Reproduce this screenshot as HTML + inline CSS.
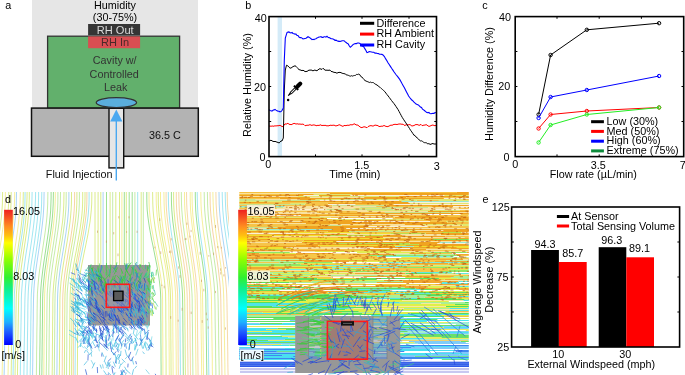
<!DOCTYPE html>
<html><head><meta charset="utf-8"><style>
html,body{margin:0;padding:0;background:#fff;width:685px;height:375px;overflow:hidden}
svg{display:block;will-change:transform}
text{font-family:"Liberation Sans",sans-serif}
</style></head><body>
<svg width="685" height="375" viewBox="0 0 685 375">
<rect width="685" height="375" fill="#fff"/>
<rect x="32" y="0" width="166" height="108" fill="#e6e6e6"/>
<rect x="47.6" y="36.2" width="132" height="72" fill="#62b06c" stroke="#333" stroke-width="1.3"/>
<rect x="88.1" y="24" width="52" height="11.5" fill="#353535"/>
<rect x="88.1" y="36.4" width="52" height="11.8" fill="#d94e52"/>
<rect x="31.5" y="108.1" width="166.8" height="48.2" fill="#b3b3b3" stroke="#111" stroke-width="1.5"/>
<rect x="109" y="108.3" width="14.7" height="59.6" fill="#e6e6e6" stroke="#111" stroke-width="1.4"/>
<ellipse cx="116.4" cy="102.6" rx="20.2" ry="5" fill="#5aaedc" stroke="#333" stroke-width="1.2"/>
<line x1="116.3" y1="180.5" x2="116.3" y2="118" stroke="#4aa8f0" stroke-width="1.4"/>
<polygon points="110.2,121.5 122.4,121.5 116.3,109.6" fill="#4aa8f0"/>
<text x="5.3" y="8.9" font-size="10.8" text-anchor="start" fill="#000" >a</text>
<text x="115" y="9.3" font-size="10.8" text-anchor="middle" fill="#000" >Humidity</text>
<text x="115" y="21.2" font-size="10.8" text-anchor="middle" fill="#000" >(30-75%)</text>
<text x="115.2" y="33.6" font-size="11.1" text-anchor="middle" fill="#dadada" >RH Out</text>
<text x="115" y="45.5" font-size="11" text-anchor="middle" fill="#4a2828" >RH In</text>
<text x="114.7" y="64.4" font-size="10.8" text-anchor="middle" fill="#333" >Cavity w/</text>
<text x="114.2" y="77.6" font-size="10.8" text-anchor="middle" fill="#333" >Controlled</text>
<text x="115.8" y="90.7" font-size="10.8" text-anchor="middle" fill="#333" >Leak</text>
<text x="149" y="138.9" font-size="10.8" text-anchor="start" fill="#111" >36.5 C</text>
<text x="45.8" y="178.2" font-size="10.8" text-anchor="start" fill="#111" >Fluid Injection</text>
<rect x="277.6" y="16.6" width="4.4" height="140.0" fill="#d4ebf8"/>
<polyline points="269,126.3 270,125.9 271,126.4 272,125.9 273,126.2 274,126.2 275,125.7 276,126.1 277,125.6 278,125.9 279,125.5 280,125.4 281,125.8 282,126.6 283,126.5 284,125.2 285,123.8 286,124.2 287,123.8 288,123.1 289,124.5 290,124.2 291,124.8 292,124.3 293,123.8 294,123.4 295,123.5 296,124.2 297,123.7 298,124 299,124.2 300,123.9 301,124.4 302,124.1 303,124.2 304,124.6 305,125.7 306,125.5 307,125.2 308,125.3 309,125.1 310,124.6 311,125.2 312,125.4 313,124.9 314,125 315,125.1 316,125.6 317,125.7 318,125.1 319,125.7 320,124.8 321,125 322,125.7 323,125.2 324,125.6 325,125.2 326,125.6 327,125.9 328,125.7 329,125.9 330,125.1 331,125.4 332,125.3 333,125.3 334,125.1 335,125.6 336,126 337,125.5 338,125.5 339,124.6 340,125.1 341,125.4 342,126.1 343,126.3 344,125.6 345,125.4 346,125.8 347,125.1 348,125.4 349,125.2 350,125 351,124.5 352,125.1 353,124.4 354,124 355,123.9 356,125.1 357,124.8 358,125.3 359,126 360,127 361,127.4 362,127.7 363,127 364,126.9 365,126.8 366,127.4 367,127.7 368,126.7 369,126.1 370,125.8 371,125.6 372,125.9 373,126.1 374,125.7 375,125 376,125.3 377,125.4 378,125.7 379,126.5 380,126.5 381,126.2 382,126.2 383,126.2 384,125.3 385,126.1 386,126.3 387,126.6 388,126.6 389,126 390,125.6 391,125 392,125.4 393,124.8 394,124.4 395,124.4 396,124.3 397,124.6 398,124.2 399,124 400,124 401,124 402,124.4 403,124.1 404,125.2 405,125.4 406,124.9 407,124.7 408,124.8 409,124.8 410,124.5 411,125.4 412,126.1 413,125.7 414,125.6 415,124.9 416,124.5 417,124.7 418,124.6 419,125.5 420,124.9 421,124.4 422,125.6 423,125.5 424,125 425,125.2 426,124.6 427,125 428,126 429,126.3 430,126.2 431,125.5 432,125.3 433,124.9 434,125.6 435,125.6 436,125.5" fill="none" stroke="#ff0000" stroke-width="1"/>
<polyline points="269,141 270,140.6 271,140.2 272,140.8 273,141.4 274,141.5 275,141.5 276,141.6 277,142.3 278,142.3 279,143.1 280,142.2 281,140.9 282,141 283.3,138 284.3,90 285.3,70 286.5,65.2 287.7,65.7 288.8,67 290,68.1 291,68.1 292,67.3 293,66.6 294,66.2 295,65.8 296,66.3 297,67.4 298,68.7 299,69.6 300,69.9 301,70.2 302,70.7 303,70.2 304,70.8 305,71.6 306,71.5 307,71.4 308,70.8 309,70 310,70.3 311,69.9 312,70.4 313,70.9 314,70.3 315,70 316,70.6 317,70.7 318,69.9 319,69.1 320,68.6 321,69.2 322,69.3 323,68.3 324,69.2 325,70.1 326,70.3 327,70.1 328,70.4 329,70.2 330,70.1 331,71.3 332,71.7 333,71.8 334,72.5 335,72.3 336,72.8 337,73.2 338,72.6 339,72.4 340,72.4 341,72.6 342.1,73.3 343.1,73.4 344.1,73.8 345.2,73.7 346.2,74.9 347.2,75 348.3,75.3 349.3,75.8 350.3,76.2 351.4,75.7 352.4,76.1 353.5,75.7 354.5,75.5 355.6,75.3 356.6,74.4 357.7,74.5 358.7,74.1 359.8,74.7 360.8,76.5 361.9,77 362.9,78.2 364,79.6 365,80.5 366.1,81.1 367.2,81.5 368.2,81.9 369.3,82.5 370.4,82.1 371.5,82.6 372.5,82.5 373.6,82.7 374.7,83.8 375.8,84.4 377,85 378.1,85.9 379.2,86.8 380.3,87.5 381.4,88.6 382.6,89.6 383.7,90.6 384.8,91.6 385.9,93.1 387,94.6 388.2,96 389.3,97.5 390.4,99 391.5,100.5 392.7,102 393.9,103.5 395,105 396,106.5 397,108 398,109.5 399.1,111.5 400.1,113.4 401.1,115.3 402.2,117.3 403.4,119.2 404.6,121 405.9,122.9 407.1,124.8 408.3,126.6 409.5,128.5 410.6,130.3 411.8,131.9 412.9,133.6 413.9,135.2 415,135.5 416.1,137.1 417.1,137.8 418.2,138.7 419.3,140.1 420.3,140.9 421.4,140.8 422.5,141.4 423.5,142.2 424.6,142.7 425.7,142.7 426.8,143 427.8,143.9 428.9,143.6 430,144.3 431,144.3 432,143.6 433,143.6 434,144 435,144 436,144" fill="none" stroke="#000" stroke-width="1"/>
<polyline points="269,109.6 270,110.5 271,110.8 272,111.2 273,110.2 274,109.9 275,109.4 276,110.1 277,110.7 278,111.3 279,111.2 280,111.8 281,111.6 282,110.5 283.3,108 284.3,60 285.3,38 287,32.6 288,32.1 289,31.9 290,32.8 291,32.9 292,32.5 293,33.5 294,33.7 295,34.1 296,34 297,35.5 298,35.5 299,37 300,37.6 301,37.6 302,38.1 303,39 304,38.7 305,38.5 306,38.3 307,37.5 308,36.7 309,37.3 310,37.9 311,38.7 312,39.7 313,39.3 314,39.6 315,38.9 316,38.7 317,37.9 318,37.5 319,37 320,37 321,36.6 322,37.4 323,37.4 324,36.7 325,36.7 326,37.2 327,36.2 328,37.3 329,37.6 330,38 331,38.8 332,38.7 333,39 334,39.5 335,40.3 336,40.1 337,40.8 338,41.1 339,41.4 340,41.4 341,41.2 342,40.8 343,40.8 344,40.7 345,41.7 346.1,42.5 347.1,43.2 348.2,43.9 349.2,45.8 350.3,47.3 351.6,46.2 353,44.6 354.1,44 355.3,43.6 356.4,43.6 357.6,43 358.7,43 359.9,43.5 361,45 362.1,46.1 363.3,45.9 364.5,48.1 365.8,50.2 367,52.5 368.1,52.2 369.2,51.6 370.4,51.8 371.5,52 372.6,52.2 373.8,52.3 375,53.1 376.1,53 377.3,53.5 378.4,53.6 379.6,54.3 380.7,54.3 381.9,54.4 383,55 384.4,56.6 385.7,58.9 386.9,60.8 388,62.7 389.2,64.5 390.4,66.4 391.6,68.3 392.9,70.1 394.1,72 395.2,73.5 396.3,75 397.5,76.4 398.6,77.9 399.7,79.4 400.9,81.5 402,83.6 403.2,85.7 404.4,87.8 405.4,89.8 406.5,91.9 407.6,94 408.6,96 409.7,97.5 410.8,98.8 411.8,100 412.9,100.8 414,102.2 415.1,103.1 416.1,104.1 417.2,104.5 418.3,104.9 419.3,105.8 420.4,107 421.5,107.5 422.5,109.1 423.6,109.9 424.7,110.8 425.7,111.6 426.8,112.4 427.9,112.7 428.9,112.4 430,113.6 431,113.8 432,113.5 433,113.3 434,113.4 435,112.5 436,112.8" fill="none" stroke="#0000ff" stroke-width="1.1"/>
<g transform="translate(295.6,88.3) rotate(-45)"><rect x="1.2" y="-2.1" width="7.4" height="4.2" rx="2" fill="#000"/><rect x="-0.4" y="-3" width="2.2" height="6" rx="0.5" fill="#000"/><rect x="-7" y="-1.4" width="6.8" height="2.8" fill="#000"/><rect x="-6.4" y="-0.45" width="5.6" height="0.9" fill="#fff"/><polygon points="-7,-1.1 -10.6,-0.4 -10.6,0.4 -7,1.1" fill="#000"/></g>
<circle cx="288.1" cy="99.9" r="1.25" fill="#000"/>
<rect x="269" y="16.6" width="167.5" height="140" fill="none" stroke="#000" stroke-width="1.6"/><line x1="315.5" y1="156.6" x2="315.5" y2="154.4" stroke="#000" stroke-width="1"/><line x1="315.5" y1="16.6" x2="315.5" y2="18.8" stroke="#000" stroke-width="1"/><line x1="362" y1="156.6" x2="362" y2="154.4" stroke="#000" stroke-width="1"/><line x1="362" y1="16.6" x2="362" y2="18.8" stroke="#000" stroke-width="1"/><line x1="409" y1="156.6" x2="409" y2="154.4" stroke="#000" stroke-width="1"/><line x1="409" y1="16.6" x2="409" y2="18.8" stroke="#000" stroke-width="1"/><line x1="269" y1="51.5" x2="271.2" y2="51.5" stroke="#000" stroke-width="1"/><line x1="436.5" y1="51.5" x2="434.3" y2="51.5" stroke="#000" stroke-width="1"/><line x1="269" y1="86.5" x2="271.2" y2="86.5" stroke="#000" stroke-width="1"/><line x1="436.5" y1="86.5" x2="434.3" y2="86.5" stroke="#000" stroke-width="1"/><line x1="269" y1="121.5" x2="271.2" y2="121.5" stroke="#000" stroke-width="1"/><line x1="436.5" y1="121.5" x2="434.3" y2="121.5" stroke="#000" stroke-width="1"/>
<text x="245.3" y="8.8" font-size="10.8" text-anchor="start" fill="#000" >b</text>
<text x="266.8" y="21.9" font-size="10.8" text-anchor="end" fill="#000" >40</text>
<text x="266" y="90.7" font-size="10.8" text-anchor="end" fill="#000" >20</text>
<text x="265.6" y="160.5" font-size="10.8" text-anchor="end" fill="#000" >0</text>
<text x="268.3" y="168" font-size="10.8" text-anchor="middle" fill="#000" >0</text>
<text x="361.8" y="169.2" font-size="10.8" text-anchor="middle" fill="#000" >1.5</text>
<text x="436.8" y="169.6" font-size="10.8" text-anchor="middle" fill="#000" >3</text>
<text x="354.8" y="178.4" font-size="10.8" text-anchor="middle" fill="#000" >Time (min)</text>
<text x="0" y="0" font-size="10.8" text-anchor="middle" fill="#000" transform="translate(250.6,85) rotate(-90)">Relative Humidity (%)</text>
<line x1="360" y1="23.3" x2="374.2" y2="23.3" stroke="#000" stroke-width="3"/>
<text x="376.5" y="26.6" font-size="10.8" text-anchor="start" fill="#000" >Difference</text>
<line x1="360" y1="34.1" x2="374.2" y2="34.1" stroke="#ff0000" stroke-width="3"/>
<text x="376.5" y="37.4" font-size="10.8" text-anchor="start" fill="#000" >RH Ambient</text>
<line x1="360" y1="45" x2="374.2" y2="45" stroke="#0000ff" stroke-width="3"/>
<text x="376.5" y="48.3" font-size="10.8" text-anchor="start" fill="#000" >RH Cavity</text>
<rect x="515.2" y="16.6" width="168.5" height="140" fill="none" stroke="#000" stroke-width="1.6"/><line x1="557" y1="156.6" x2="557" y2="154.4" stroke="#000" stroke-width="1"/><line x1="557" y1="16.6" x2="557" y2="18.8" stroke="#000" stroke-width="1"/><line x1="599.2" y1="156.6" x2="599.2" y2="154.4" stroke="#000" stroke-width="1"/><line x1="599.2" y1="16.6" x2="599.2" y2="18.8" stroke="#000" stroke-width="1"/><line x1="641.4" y1="156.6" x2="641.4" y2="154.4" stroke="#000" stroke-width="1"/><line x1="641.4" y1="16.6" x2="641.4" y2="18.8" stroke="#000" stroke-width="1"/><line x1="515.2" y1="51.5" x2="517.4" y2="51.5" stroke="#000" stroke-width="1"/><line x1="683.7" y1="51.5" x2="681.5" y2="51.5" stroke="#000" stroke-width="1"/><line x1="515.2" y1="86.5" x2="517.4" y2="86.5" stroke="#000" stroke-width="1"/><line x1="683.7" y1="86.5" x2="681.5" y2="86.5" stroke="#000" stroke-width="1"/><line x1="515.2" y1="121.5" x2="517.4" y2="121.5" stroke="#000" stroke-width="1"/><line x1="683.7" y1="121.5" x2="681.5" y2="121.5" stroke="#000" stroke-width="1"/>
<polyline points="538.6,114.5 550.6,55 586.8,29.8 659.1,23.2" fill="none" stroke="#000" stroke-width="1"/>
<circle cx="538.6" cy="114.5" r="1.7" fill="none" stroke="#000" stroke-width="1"/>
<circle cx="550.6" cy="55" r="1.7" fill="none" stroke="#000" stroke-width="1"/>
<circle cx="586.8" cy="29.8" r="1.7" fill="none" stroke="#000" stroke-width="1"/>
<circle cx="659.1" cy="23.2" r="1.7" fill="none" stroke="#000" stroke-width="1"/>
<polyline points="538.6,128.5 550.6,114.5 586.8,111 659.1,107.5" fill="none" stroke="#ff0000" stroke-width="1"/>
<circle cx="538.6" cy="128.5" r="1.7" fill="none" stroke="#ff0000" stroke-width="1"/>
<circle cx="550.6" cy="114.5" r="1.7" fill="none" stroke="#ff0000" stroke-width="1"/>
<circle cx="586.8" cy="111" r="1.7" fill="none" stroke="#ff0000" stroke-width="1"/>
<circle cx="659.1" cy="107.5" r="1.7" fill="none" stroke="#ff0000" stroke-width="1"/>
<polyline points="538.6,118 550.6,97 586.8,90 659.1,76" fill="none" stroke="#0000ff" stroke-width="1"/>
<circle cx="538.6" cy="118" r="1.7" fill="none" stroke="#0000ff" stroke-width="1"/>
<circle cx="550.6" cy="97" r="1.7" fill="none" stroke="#0000ff" stroke-width="1"/>
<circle cx="586.8" cy="90" r="1.7" fill="none" stroke="#0000ff" stroke-width="1"/>
<circle cx="659.1" cy="76" r="1.7" fill="none" stroke="#0000ff" stroke-width="1"/>
<polyline points="538.6,142.5 550.6,125 586.8,114.5 659.1,107.5" fill="none" stroke="#22ee22" stroke-width="1"/>
<circle cx="538.6" cy="142.5" r="1.7" fill="none" stroke="#22ee22" stroke-width="1"/>
<circle cx="550.6" cy="125" r="1.7" fill="none" stroke="#22ee22" stroke-width="1"/>
<circle cx="586.8" cy="114.5" r="1.7" fill="none" stroke="#22ee22" stroke-width="1"/>
<circle cx="659.1" cy="107.5" r="1.7" fill="none" stroke="#22ee22" stroke-width="1"/>
<text x="482.3" y="9.4" font-size="10.8" text-anchor="start" fill="#000" >c</text>
<text x="511.1" y="21.4" font-size="10.8" text-anchor="end" fill="#000" >40</text>
<text x="510.2" y="89.7" font-size="10.8" text-anchor="end" fill="#000" >20</text>
<text x="509.6" y="160.5" font-size="10.8" text-anchor="end" fill="#000" >0</text>
<text x="515.2" y="168" font-size="10.8" text-anchor="middle" fill="#000" >0</text>
<text x="598.2" y="169.1" font-size="10.8" text-anchor="middle" fill="#000" >3.5</text>
<text x="682.8" y="169.4" font-size="10.8" text-anchor="middle" fill="#000" >7</text>
<text x="593.3" y="178.2" font-size="10.8" text-anchor="middle" fill="#000" >Flow rate (µL/min)</text>
<text x="0" y="0" font-size="10.8" text-anchor="middle" fill="#000" transform="translate(493.2,84) rotate(-90)">Humidity Difference (%)</text>
<line x1="591.1" y1="121.7" x2="603.9" y2="121.7" stroke="#000" stroke-width="3"/>
<text x="606.6" y="124.8" font-size="10.8" text-anchor="start" fill="#000" >Low (30%)</text>
<line x1="591.1" y1="131.4" x2="603.9" y2="131.4" stroke="#ff0000" stroke-width="3"/>
<text x="606.6" y="134.5" font-size="10.8" text-anchor="start" fill="#000" >Med (50%)</text>
<line x1="591.1" y1="141.2" x2="603.9" y2="141.2" stroke="#0000ff" stroke-width="3"/>
<text x="606.6" y="144.3" font-size="10.8" text-anchor="start" fill="#000" >High (60%)</text>
<line x1="591.1" y1="150.9" x2="603.9" y2="150.9" stroke="#0d8c3c" stroke-width="3"/>
<text x="606.6" y="154" font-size="10.8" text-anchor="start" fill="#000" >Extreme (75%)</text>
<svg x="0" y="192" width="229" height="183" viewBox="0 192 229 183" overflow="hidden"><path d="M-6 192 -6.1 198 -6.3 204 -6.7 210 -7.2 216 -7.9 222 -8.7 228 -9.6 234 -10.5 240 -11.5 246 -12.6 252 -13.6 258 -14.6 264 -15.5 270 -16.3 276 -17.1 282 -17.6 288 -18.1 294 -18.3 300 -18.4 306 -18.5 312 -18.7 318 -18.8 324 -18.9 330 -19 336 -19.2 342 -19.3 348 -19.4 354 -19.5 360 -19.6 366 -19.8 372 -19.8 375M-0.3 192 -0.5 198 -0.6 204 -1 210 -1.5 216 -2.2 222 -2.9 228 -3.8 234 -4.8 240 -5.7 246 -6.7 252 -7.7 258 -8.7 264 -9.6 270 -10.4 276 -11.1 282 -11.7 288 -12.1 294 -12.3 300 -12.4 306 -12.6 312 -12.7 318 -12.8 324 -12.9 330 -13 336 -13.1 342 -13.3 348 -13.4 354 -13.5 360 -13.6 366 -13.7 372 -13.8 375M25.1 192 25 198 24.9 204 24.6 210 24.1 216 23.5 222 22.8 228 22 234 21.1 240 20.2 246 19.3 252 18.4 258 17.5 264 16.7 270 16 276 15.3 282 14.8 288 14.4 294 14.2 300 14.2 306 14.1 312 14 318 13.9 324 13.8 330 13.7 336 13.6 342 13.5 348 13.4 354 13.3 360 13.2 366 13.1 372 13.1 375M32.1 192 32 198 31.9 204 31.6 210 31.1 216 30.5 222 29.8 228 29 234 28.2 240 27.3 246 26.3 252 25.4 258 24.6 264 23.8 270 23 276 22.4 282 21.9 288 21.5 294 21.3 300 21.3 306 21.2 312 21.1 318 21 324 20.9 330 20.8 336 20.7 342 20.7 348 20.6 354 20.5 360 20.4 366 20.3 372 20.3 375M35.6 192 35.5 198 35.3 204 35 210 34.6 216 34 222 33.3 228 32.5 234 31.7 240 30.8 246 29.9 252 29 258 28.1 264 27.3 270 26.5 276 25.9 282 25.4 288 25.1 294 24.9 300 24.8 306 24.7 312 24.6 318 24.6 324 24.5 330 24.4 336 24.3 342 24.2 348 24.1 354 24.1 360 24 366 23.9 372 23.9 375M38.6 192 38.6 198 38.4 204 38.1 210 37.7 216 37.1 222 36.4 228 35.6 234 34.8 240 33.9 246 33 252 32.1 258 31.2 264 30.4 270 29.7 276 29 282 28.5 288 28.2 294 28 300 27.9 306 27.8 312 27.8 318 27.7 324 27.6 330 27.5 336 27.4 342 27.4 348 27.3 354 27.2 360 27.1 366 27.1 372 27 375M41.8 192 41.7 198 41.6 204 41.3 210 40.8 216 40.2 222 39.5 228 38.7 234 37.9 240 37 246 36.1 252 35.2 258 34.3 264 33.5 270 32.8 276 32.2 282 31.7 288 31.3 294 31.1 300 31.1 306 31 312 30.9 318 30.8 324 30.8 330 30.7 336 30.6 342 30.5 348 30.5 354 30.4 360 30.3 366 30.2 372 30.2 375M89.1 192 89.1 198 89 204 88.6 210 88.1 216 87.3 222 86.4 228 85.4 234 84.2 240 83.1 246 81.9 252 80.7 258 79.5 264 78.4 270 77.5 276 76.7 282 76 288 75.6 294 75.5 300 75.4 306 75.4 312 75.4 318 75.3 324 75.3 330 75.3 336 75.3 342 75.2 348 75.2 354 75.2 360 75.1 366 75.1 372 75.1 375M137.7 192 137.7 200 137.7 208 137.7 216 137.7 224 137.7 232 137.7 240 137.7 248 137.7 256 137.7 264 137.7 266M168.3 192 168.4 198 168.5 204 168.8 210 169.3 216 169.9 222 170.7 228 171.5 234 172.5 240 173.5 246 174.5 252 175.4 258 176.4 264 177.3 270 178.1 276 178.8 282 179.3 288 179.7 294 179.8 300 179.9 306 179.9 312 180 318 180 324 180.1 330 180.1 336 180.2 342 180.2 348 180.3 354 180.3 360 180.4 366 180.4 372 180.4 375M197.2 192 197.3 198 197.4 204 197.7 210 198.1 216 198.7 222 199.4 228 200.2 234 201.1 240 202 246 202.9 252 203.8 258 204.6 264 205.4 270 206.2 276 206.8 282 207.3 288 207.7 294 207.8 300 207.9 306 208 312 208.1 318 208.1 324 208.2 330 208.3 336 208.4 342 208.4 348 208.5 354 208.6 360 208.7 366 208.8 372 208.8 375M222.2 192 222.3 198 222.5 204 222.8 210 223.3 216 223.9 222 224.7 228 225.5 234 226.4 240 227.3 246 228.2 252 229.2 258 230.1 264 230.9 270 231.7 276 232.4 282 232.9 288 233.3 294 233.5 300 233.6 306 233.7 312 233.8 318 233.9 324 234 330 234.1 336 234.2 342 234.3 348 234.4 354 234.5 360 234.6 366 234.7 372 234.7 375M225.2 192 225.3 198 225.5 204 225.8 210 226.3 216 226.9 222 227.6 228 228.5 234 229.4 240 230.3 246 231.3 252 232.2 258 233.1 264 234 270 234.8 276 235.4 282 236 288 236.3 294 236.5 300 236.6 306 236.8 312 236.9 318 237 324 237.1 330 237.2 336 237.3 342 237.4 348 237.5 354 237.6 360 237.7 366 237.8 372 237.8 375M233.4 192 233.5 198 233.6 204 234 210 234.5 216 235.1 222 235.9 228 236.8 234 237.7 240 238.7 246 239.6 252 240.6 258 241.6 264 242.4 270 243.2 276 243.9 282 244.5 288 244.9 294 245.1 300 245.2 306 245.3 312 245.4 318 245.5 324 245.7 330 245.8 336 245.9 342 246 348 246.1 354 246.2 360 246.3 366 246.4 372 246.5 375" fill="none" stroke="#62d6e8" stroke-width="0.75" stroke-opacity="0.8"/>
<path d="M-3.1 192 -3.2 198 -3.4 204 -3.7 210 -4.2 216 -4.9 222 -5.7 228 -6.6 234 -7.5 240 -8.5 246 -9.6 252 -10.6 258 -11.5 264 -12.5 270 -13.3 276 -14 282 -14.6 288 -15 294 -15.2 300 -15.3 306 -15.4 312 -15.6 318 -15.7 324 -15.8 330 -15.9 336 -16 342 -16.2 348 -16.3 354 -16.4 360 -16.5 366 -16.6 372 -16.7 375M47.9 192 47.8 198 47.7 204 47.4 210 47 216 46.4 222 45.7 228 44.9 234 44 240 43.1 246 42.2 252 41.3 258 40.5 264 39.6 270 38.9 276 38.3 282 37.8 288 37.4 294 37.3 300 37.2 306 37.1 312 37.1 318 37 324 36.9 330 36.8 336 36.8 342 36.7 348 36.6 354 36.6 360 36.5 366 36.4 372 36.4 375M57.9 192 57.9 198 57.8 204 57.5 210 57 216 56.4 222 55.7 228 54.9 234 54 240 53.1 246 52.1 252 51.2 258 50.3 264 49.5 270 48.7 276 48.1 282 47.6 288 47.2 294 47.1 300 47 306 46.9 312 46.9 318 46.8 324 46.8 330 46.7 336 46.6 342 46.6 348 46.5 354 46.5 360 46.4 366 46.3 372 46.3 375M60.5 192 60.4 198 60.3 204 60 210 59.6 216 59 222 58.3 228 57.4 234 56.5 240 55.6 246 54.7 252 53.7 258 52.8 264 52 270 51.2 276 50.6 282 50 288 49.7 294 49.5 300 49.5 306 49.4 312 49.4 318 49.3 324 49.2 330 49.2 336 49.1 342 49.1 348 49 354 49 360 48.9 366 48.8 372 48.8 375M66.2 192 66.2 198 66.1 204 65.8 210 65.3 216 64.7 222 63.9 228 63.1 234 62.2 240 61.2 246 60.2 252 59.3 258 58.3 264 57.4 270 56.7 276 56 282 55.5 288 55.1 294 55 300 54.9 306 54.9 312 54.8 318 54.8 324 54.7 330 54.7 336 54.6 342 54.5 348 54.5 354 54.4 360 54.4 366 54.3 372 54.3 375M79.4 192 79.4 198 79.3 204 79 210 78.5 216 77.8 222 76.9 228 76 234 75 240 73.9 246 72.8 252 71.8 258 70.7 264 69.8 270 68.9 276 68.2 282 67.6 288 67.2 294 67.1 300 67 306 67 312 66.9 318 66.9 324 66.9 330 66.8 336 66.8 342 66.8 348 66.7 354 66.7 360 66.6 366 66.6 372 66.6 375M112.7 192 112.7 200 112.7 208 112.7 216 112.7 224 112.7 232 112.7 240 112.7 248 112.7 256 112.7 264 112.7 266M134.9 192 134.9 200 134.9 208 134.9 216 134.9 224 134.9 232 134.9 240 134.9 248 134.9 256 134.9 264 134.9 266M143.3 192 143.3 200 143.3 208 143.3 216 143.3 224 143.3 232 143.3 240 143.3 248 143.3 256 143.3 264 143.3 266M181.3 192 181.4 198 181.5 204 181.8 210 182.3 216 182.8 222 183.6 228 184.4 234 185.2 240 186.2 246 187.1 252 188 258 188.9 264 189.8 270 190.5 276 191.1 282 191.6 288 192 294 192.2 300 192.2 306 192.3 312 192.3 318 192.4 324 192.5 330 192.5 336 192.6 342 192.6 348 192.7 354 192.8 360 192.8 366 192.9 372 192.9 375M204.2 192 204.3 198 204.4 204 204.7 210 205.2 216 205.8 222 206.5 228 207.2 234 208.1 240 209 246 209.9 252 210.8 258 211.7 264 212.5 270 213.2 276 213.9 282 214.4 288 214.7 294 214.9 300 215 306 215.1 312 215.1 318 215.2 324 215.3 330 215.4 336 215.5 342 215.6 348 215.6 354 215.7 360 215.8 366 215.9 372 215.9 375M207.4 192 207.5 198 207.6 204 207.9 210 208.3 216 208.9 222 209.6 228 210.4 234 211.3 240 212.2 246 213.1 252 214 258 214.9 264 215.7 270 216.4 276 217.1 282 217.6 288 217.9 294 218.1 300 218.2 306 218.3 312 218.4 318 218.5 324 218.6 330 218.6 336 218.7 342 218.8 348 218.9 354 219 360 219.1 366 219.2 372 219.2 375" fill="none" stroke="#a0e070" stroke-width="0.75" stroke-opacity="0.8"/>
<path d="M2.6 192 2.5 198 2.4 204 2 210 1.5 216 0.8 222 0.1 228 -0.8 234 -1.7 240 -2.7 246 -3.7 252 -4.7 258 -5.6 264 -6.5 270 -7.3 276 -8 282 -8.6 288 -9 294 -9.2 300 -9.3 306 -9.4 312 -9.5 318 -9.6 324 -9.8 330 -9.9 336 -10 342 -10.1 348 -10.2 354 -10.3 360 -10.5 366 -10.6 372 -10.6 375M8.8 192 8.7 198 8.6 204 8.2 210 7.7 216 7.1 222 6.4 228 5.5 234 4.6 240 3.7 246 2.7 252 1.7 258 0.8 264 -0.1 270 -0.9 276 -1.5 282 -2.1 288 -2.5 294 -2.7 300 -2.8 306 -2.9 312 -3 318 -3.1 324 -3.2 330 -3.3 336 -3.4 342 -3.5 348 -3.7 354 -3.8 360 -3.9 366 -4 372 -4 375M11.2 192 11.1 198 11 204 10.7 210 10.2 216 9.5 222 8.8 228 8 234 7.1 240 6.1 246 5.2 252 4.2 258 3.3 264 2.4 270 1.6 276 1 282 0.4 288 0 294 -0.2 300 -0.3 306 -0.4 312 -0.5 318 -0.6 324 -0.7 330 -0.8 336 -0.9 342 -1 348 -1.1 354 -1.2 360 -1.3 366 -1.4 372 -1.5 375M23.3 192 23.2 198 23.1 204 22.8 210 22.3 216 21.7 222 21 228 20.2 234 19.3 240 18.4 246 17.5 252 16.5 258 15.7 264 14.8 270 14.1 276 13.4 282 12.9 288 12.6 294 12.4 300 12.3 306 12.2 312 12.1 318 12 324 11.9 330 11.8 336 11.7 342 11.6 348 11.5 354 11.4 360 11.3 366 11.2 372 11.2 375M27.1 192 27 198 26.8 204 26.5 210 26.1 216 25.5 222 24.8 228 24 234 23.1 240 22.2 246 21.3 252 20.4 258 19.5 264 18.7 270 17.9 276 17.3 282 16.8 288 16.4 294 16.2 300 16.1 306 16 312 15.9 318 15.9 324 15.8 330 15.7 336 15.6 342 15.5 348 15.4 354 15.3 360 15.2 366 15.1 372 15.1 375M29.3 192 29.3 198 29.1 204 28.8 210 28.4 216 27.8 222 27.1 228 26.3 234 25.4 240 24.5 246 23.6 252 22.7 258 21.8 264 21 270 20.2 276 19.6 282 19.1 288 18.7 294 18.6 300 18.5 306 18.4 312 18.3 318 18.2 324 18.1 330 18 336 17.9 342 17.9 348 17.8 354 17.7 360 17.6 366 17.5 372 17.5 375M64 192 63.9 198 63.8 204 63.5 210 63.1 216 62.5 222 61.7 228 60.9 234 60 240 59 246 58.1 252 57.1 258 56.2 264 55.3 270 54.6 276 53.9 282 53.4 288 53 294 52.9 300 52.8 306 52.8 312 52.7 318 52.6 324 52.6 330 52.5 336 52.5 342 52.4 348 52.4 354 52.3 360 52.3 366 52.2 372 52.2 375M71.5 192 71.5 198 71.4 204 71.1 210 70.6 216 70 222 69.2 228 68.3 234 67.4 240 66.4 246 65.4 252 64.4 258 63.4 264 62.5 270 61.7 276 61 282 60.5 288 60.1 294 59.9 300 59.9 306 59.8 312 59.8 318 59.7 324 59.7 330 59.7 336 59.6 342 59.6 348 59.5 354 59.5 360 59.4 366 59.4 372 59.3 375M76.9 192 76.9 198 76.8 204 76.5 210 76 216 75.3 222 74.5 228 73.6 234 72.6 240 71.6 246 70.5 252 69.5 258 68.5 264 67.5 270 66.7 276 65.9 282 65.4 288 65 294 64.9 300 64.8 306 64.8 312 64.7 318 64.7 324 64.6 330 64.6 336 64.6 342 64.5 348 64.5 354 64.4 360 64.4 366 64.4 372 64.3 375M82.7 192 82.7 198 82.6 204 82.3 210 81.8 216 81 222 80.2 228 79.2 234 78.2 240 77.1 246 76 252 74.8 258 73.8 264 72.8 270 71.9 276 71.1 282 70.5 288 70.2 294 70 300 70 306 69.9 312 69.9 318 69.8 324 69.8 330 69.8 336 69.7 342 69.7 348 69.7 354 69.6 360 69.6 366 69.6 372 69.5 375M85 192 85 198 84.9 204 84.6 210 84 216 83.3 222 82.4 228 81.4 234 80.4 240 79.2 246 78.1 252 77 258 75.9 264 74.8 270 73.9 276 73.1 282 72.5 288 72.1 294 72 300 72 306 71.9 312 71.9 318 71.9 324 71.8 330 71.8 336 71.8 342 71.7 348 71.7 354 71.7 360 71.6 366 71.6 372 71.6 375M91.8 192 91.8 198 91.7 204 91.3 210 90.7 216 90 222 89 228 88 234 86.8 240 85.6 246 84.3 252 83.1 258 81.9 264 80.8 270 79.8 276 79 282 78.3 288 77.9 294 77.7 300 77.7 306 77.7 312 77.6 318 77.6 324 77.6 330 77.6 336 77.5 342 77.5 348 77.5 354 77.5 360 77.4 366 77.4 372 77.4 375M95 192 95 200 95 208 95 216 95 224 95 232 95 240 95 248 95 256 95 264 95 266M98.1 192 98.1 200 98.1 208 98.1 216 98.1 224 98.1 232 98.1 240 98.1 248 98.1 256 98.1 264 98.1 266M100.8 192 100.8 200 100.8 208 100.8 216 100.8 224 100.8 232 100.8 240 100.8 248 100.8 256 100.8 264 100.8 266M110.1 192 110.1 200 110.1 208 110.1 216 110.1 224 110.1 232 110.1 240 110.1 248 110.1 256 110.1 264 110.1 266M115.8 192 115.8 200 115.8 208 115.8 216 115.8 224 115.8 232 115.8 240 115.8 248 115.8 256 115.8 264 115.8 266M119.5 192 119.5 200 119.5 208 119.5 216 119.5 224 119.5 232 119.5 240 119.5 248 119.5 256 119.5 264 119.5 266M126.3 192 126.3 200 126.3 208 126.3 216 126.3 224 126.3 232 126.3 240 126.3 248 126.3 256 126.3 264 126.3 266M141.2 192 141.2 200 141.2 208 141.2 216 141.2 224 141.2 232 141.2 240 141.2 248 141.2 256 141.2 264 141.2 266M152.6 192 152.7 198 152.8 204 153.1 210 153.6 216 154.4 222 155.2 228 156.2 234 157.3 240 158.4 246 159.6 252 160.7 258 161.8 264 162.9 270 163.8 276 164.6 282 165.2 288 165.6 294 165.7 300 165.8 306 165.8 312 165.8 318 165.9 324 165.9 330 165.9 336 166 342 166 348 166 354 166.1 360 166.1 366 166.1 372 166.1 375M158.2 192 158.3 198 158.3 204 158.7 210 159.2 216 159.9 222 160.7 228 161.6 234 162.6 240 163.7 246 164.8 252 165.9 258 166.9 264 167.9 270 168.8 276 169.5 282 170.1 288 170.4 294 170.6 300 170.6 306 170.7 312 170.7 318 170.8 324 170.8 330 170.8 336 170.9 342 170.9 348 171 354 171 360 171 366 171.1 372 171.1 375M173.6 192 173.6 198 173.7 204 174 210 174.5 216 175.1 222 175.9 228 176.7 234 177.6 240 178.5 246 179.5 252 180.5 258 181.4 264 182.3 270 183 276 183.7 282 184.2 288 184.6 294 184.7 300 184.8 306 184.8 312 184.9 318 184.9 324 185 330 185.1 336 185.1 342 185.2 348 185.2 354 185.3 360 185.3 366 185.4 372 185.4 375" fill="none" stroke="#c4e040" stroke-width="0.75" stroke-opacity="0.8"/>
<path d="M5.4 192 5.3 198 5.2 204 4.8 210 4.3 216 3.7 222 2.9 228 2.1 234 1.2 240 0.2 246 -0.8 252 -1.8 258 -2.7 264 -3.6 270 -4.4 276 -5.1 282 -5.6 288 -6 294 -6.2 300 -6.3 306 -6.4 312 -6.6 318 -6.7 324 -6.8 330 -6.9 336 -7 342 -7.1 348 -7.2 354 -7.3 360 -7.5 366 -7.6 372 -7.6 375M14.7 192 14.6 198 14.4 204 14.1 210 13.6 216 13 222 12.2 228 11.4 234 10.5 240 9.6 246 8.6 252 7.7 258 6.8 264 6 270 5.2 276 4.5 282 4 288 3.6 294 3.4 300 3.3 306 3.2 312 3.1 318 3 324 2.9 330 2.8 336 2.7 342 2.6 348 2.5 354 2.4 360 2.3 366 2.2 372 2.1 375M20.3 192 20.2 198 20 204 19.7 210 19.2 216 18.6 222 17.9 228 17.1 234 16.2 240 15.3 246 14.4 252 13.5 258 12.6 264 11.7 270 11 276 10.3 282 9.8 288 9.4 294 9.2 300 9.1 306 9 312 8.9 318 8.8 324 8.7 330 8.6 336 8.6 342 8.5 348 8.4 354 8.3 360 8.2 366 8.1 372 8 375M55.3 192 55.3 198 55.1 204 54.9 210 54.4 216 53.8 222 53.1 228 52.3 234 51.4 240 50.5 246 49.6 252 48.7 258 47.8 264 46.9 270 46.2 276 45.6 282 45 288 44.7 294 44.5 300 44.5 306 44.4 312 44.4 318 44.3 324 44.2 330 44.2 336 44.1 342 44 348 44 354 43.9 360 43.9 366 43.8 372 43.8 375M121.9 192 121.9 200 121.9 208 121.9 216 121.9 224 121.9 232 121.9 240 121.9 248 121.9 256 121.9 264 121.9 266M149 192 149 198 149.1 204 149.4 210 150 216 150.7 222 151.6 228 152.7 234 153.8 240 155 246 156.2 252 157.4 258 158.5 264 159.6 270 160.6 276 161.4 282 162 288 162.4 294 162.6 300 162.6 306 162.6 312 162.7 318 162.7 324 162.7 330 162.8 336 162.8 342 162.8 348 162.8 354 162.9 360 162.9 366 162.9 372 162.9 375M156.2 192 156.2 198 156.3 204 156.7 210 157.2 216 157.9 222 158.7 228 159.7 234 160.7 240 161.8 246 162.9 252 164 258 165.1 264 166.1 270 166.9 276 167.7 282 168.3 288 168.7 294 168.8 300 168.9 306 168.9 312 168.9 318 169 324 169 330 169 336 169.1 342 169.1 348 169.2 354 169.2 360 169.2 366 169.3 372 169.3 375M160.5 192 160.5 198 160.6 204 160.9 210 161.4 216 162.1 222 162.9 228 163.8 234 164.8 240 165.9 246 166.9 252 168 258 169 264 170 270 170.8 276 171.5 282 172.1 288 172.5 294 172.6 300 172.7 306 172.7 312 172.8 318 172.8 324 172.8 330 172.9 336 172.9 342 173 348 173 354 173 360 173.1 366 173.1 372 173.1 375M163.9 192 164 198 164.1 204 164.4 210 164.9 216 165.5 222 166.3 228 167.2 234 168.2 240 169.2 246 170.2 252 171.3 258 172.2 264 173.2 270 174 276 174.7 282 175.2 288 175.6 294 175.8 300 175.8 306 175.8 312 175.9 318 175.9 324 176 330 176 336 176.1 342 176.1 348 176.2 354 176.2 360 176.2 366 176.3 372 176.3 375M184.5 192 184.5 198 184.6 204 184.9 210 185.4 216 186 222 186.7 228 187.5 234 188.3 240 189.2 246 190.2 252 191.1 258 192 264 192.8 270 193.5 276 194.2 282 194.7 288 195 294 195.2 300 195.3 306 195.3 312 195.4 318 195.4 324 195.5 330 195.6 336 195.6 342 195.7 348 195.8 354 195.8 360 195.9 366 196 372 196 375M190.2 192 190.2 198 190.3 204 190.6 210 191.1 216 191.7 222 192.4 228 193.2 234 194 240 194.9 246 195.8 252 196.7 258 197.6 264 198.4 270 199.2 276 199.8 282 200.3 288 200.6 294 200.8 300 200.9 306 200.9 312 201 318 201.1 324 201.1 330 201.2 336 201.3 342 201.4 348 201.4 354 201.5 360 201.6 366 201.6 372 201.7 375M192 192 192.1 198 192.2 204 192.5 210 192.9 216 193.5 222 194.2 228 195 234 195.9 240 196.8 246 197.7 252 198.6 258 199.4 264 200.2 270 201 276 201.6 282 202.1 288 202.5 294 202.6 300 202.7 306 202.8 312 202.8 318 202.9 324 203 330 203.1 336 203.1 342 203.2 348 203.3 354 203.3 360 203.4 366 203.5 372 203.5 375M200.8 192 200.9 198 201 204 201.3 210 201.8 216 202.4 222 203.1 228 203.8 234 204.7 240 205.6 246 206.5 252 207.4 258 208.3 264 209.1 270 209.8 276 210.4 282 210.9 288 211.3 294 211.5 300 211.5 306 211.6 312 211.7 318 211.8 324 211.9 330 211.9 336 212 342 212.1 348 212.2 354 212.3 360 212.3 366 212.4 372 212.5 375M212.9 192 213 198 213.2 204 213.5 210 213.9 216 214.6 222 215.3 228 216.1 234 216.9 240 217.8 246 218.8 252 219.7 258 220.6 264 221.4 270 222.1 276 222.8 282 223.3 288 223.6 294 223.8 300 223.9 306 224 312 224.1 318 224.2 324 224.3 330 224.4 336 224.5 342 224.6 348 224.7 354 224.8 360 224.9 366 224.9 372 225 375" fill="none" stroke="#eee458" stroke-width="0.75" stroke-opacity="0.8"/>
<path d="M16.5 192 16.4 198 16.3 204 16 210 15.5 216 14.9 222 14.1 228 13.3 234 12.4 240 11.5 246 10.6 252 9.6 258 8.7 264 7.9 270 7.1 276 6.5 282 5.9 288 5.6 294 5.4 300 5.3 306 5.2 312 5.1 318 5 324 4.9 330 4.8 336 4.7 342 4.6 348 4.5 354 4.4 360 4.3 366 4.2 372 4.1 375M44.1 192 44 198 43.9 204 43.6 210 43.2 216 42.6 222 41.9 228 41.1 234 40.3 240 39.4 246 38.5 252 37.6 258 36.7 264 35.9 270 35.1 276 34.5 282 34 288 33.7 294 33.5 300 33.4 306 33.3 312 33.3 318 33.2 324 33.1 330 33.1 336 33 342 32.9 348 32.8 354 32.8 360 32.7 366 32.6 372 32.6 375M68.9 192 68.9 198 68.8 204 68.5 210 68 216 67.4 222 66.6 228 65.8 234 64.8 240 63.9 246 62.9 252 61.9 258 60.9 264 60 270 59.3 276 58.6 282 58 288 57.7 294 57.5 300 57.5 306 57.4 312 57.4 318 57.3 324 57.3 330 57.2 336 57.2 342 57.1 348 57.1 354 57 360 57 366 56.9 372 56.9 375M103.1 192 103.1 200 103.1 208 103.1 216 103.1 224 103.1 232 103.1 240 103.1 248 103.1 256 103.1 264 103.1 266M219 192 219.1 198 219.2 204 219.5 210 220 216 220.6 222 221.4 228 222.2 234 223.1 240 224 246 224.9 252 225.8 258 226.7 264 227.6 270 228.3 276 229 282 229.5 288 229.9 294 230.1 300 230.2 306 230.3 312 230.4 318 230.5 324 230.6 330 230.7 336 230.8 342 230.9 348 231 354 231.1 360 231.2 366 231.3 372 231.3 375" fill="none" stroke="#70b8f0" stroke-width="0.75" stroke-opacity="0.8"/>
<path d="M51.1 192 51.1 198 50.9 204 50.7 210 50.2 216 49.6 222 48.9 228 48.1 234 47.2 240 46.3 246 45.4 252 44.5 258 43.6 264 42.8 270 42.1 276 41.4 282 40.9 288 40.6 294 40.4 300 40.4 306 40.3 312 40.2 318 40.2 324 40.1 330 40 336 40 342 39.9 348 39.8 354 39.8 360 39.7 366 39.6 372 39.6 375M53.4 192 53.3 198 53.2 204 52.9 210 52.5 216 51.9 222 51.2 228 50.4 234 49.5 240 48.6 246 47.7 252 46.7 258 45.9 264 45 270 44.3 276 43.7 282 43.2 288 42.8 294 42.6 300 42.6 306 42.5 312 42.5 318 42.4 324 42.3 330 42.3 336 42.2 342 42.1 348 42.1 354 42 360 41.9 366 41.9 372 41.8 375M106.5 192 106.5 200 106.5 208 106.5 216 106.5 224 106.5 232 106.5 240 106.5 248 106.5 256 106.5 264 106.5 266M124.3 192 124.3 200 124.3 208 124.3 216 124.3 224 124.3 232 124.3 240 124.3 248 124.3 256 124.3 264 124.3 266M129.2 192 129.2 200 129.2 208 129.2 216 129.2 224 129.2 232 129.2 240 129.2 248 129.2 256 129.2 264 129.2 266M132.2 192 132.2 200 132.2 208 132.2 216 132.2 224 132.2 232 132.2 240 132.2 248 132.2 256 132.2 264 132.2 266M146.8 192 146.8 198 146.9 204 147.2 210 147.8 216 148.6 222 149.5 228 150.6 234 151.7 240 153 246 154.2 252 155.4 258 156.6 264 157.7 270 158.7 276 159.5 282 160.2 288 160.6 294 160.8 300 160.8 306 160.8 312 160.8 318 160.9 324 160.9 330 160.9 336 160.9 342 161 348 161 354 161 360 161.1 366 161.1 372 161.1 375M171.4 192 171.4 198 171.5 204 171.8 210 172.3 216 172.9 222 173.7 228 174.5 234 175.4 240 176.4 246 177.4 252 178.3 258 179.3 264 180.2 270 180.9 276 181.6 282 182.1 288 182.5 294 182.6 300 182.7 306 182.8 312 182.8 318 182.9 324 182.9 330 183 336 183 342 183.1 348 183.1 354 183.2 360 183.2 366 183.3 372 183.3 375M195.3 192 195.3 198 195.5 204 195.7 210 196.2 216 196.8 222 197.5 228 198.3 234 199.1 240 200 246 200.9 252 201.8 258 202.7 264 203.5 270 204.2 276 204.9 282 205.4 288 205.7 294 205.9 300 205.9 306 206 312 206.1 318 206.2 324 206.2 330 206.3 336 206.4 342 206.5 348 206.5 354 206.6 360 206.7 366 206.8 372 206.8 375" fill="none" stroke="#5ccc48" stroke-width="0.75" stroke-opacity="0.8"/>
<path d="M74.6 192 74.6 198 74.5 204 74.2 210 73.7 216 73 222 72.2 228 71.3 234 70.4 240 69.3 246 68.3 252 67.3 258 66.3 264 65.3 270 64.5 276 63.8 282 63.3 288 62.9 294 62.7 300 62.7 306 62.6 312 62.6 318 62.6 324 62.5 330 62.5 336 62.4 342 62.4 348 62.3 354 62.3 360 62.3 366 62.2 372 62.2 375M86.9 192 86.9 198 86.8 204 86.5 210 85.9 216 85.2 222 84.3 228 83.3 234 82.2 240 81 246 79.9 252 78.7 258 77.6 264 76.5 270 75.6 276 74.8 282 74.2 288 73.8 294 73.6 300 73.6 306 73.6 312 73.5 318 73.5 324 73.5 330 73.4 336 73.4 342 73.4 348 73.4 354 73.3 360 73.3 366 73.3 372 73.2 375M210 192 210.1 198 210.2 204 210.5 210 211 216 211.6 222 212.3 228 213.1 234 214 240 214.9 246 215.8 252 216.7 258 217.6 264 218.4 270 219.1 276 219.8 282 220.3 288 220.6 294 220.8 300 220.9 306 221 312 221.1 318 221.2 324 221.3 330 221.3 336 221.4 342 221.5 348 221.6 354 221.7 360 221.8 366 221.9 372 221.9 375" fill="none" stroke="#f0b868" stroke-width="0.75" stroke-opacity="0.8"/>
<path d="M166.1 192 166.1 198 166.2 204 166.5 210 167 216 167.7 222 168.4 228 169.3 234 170.3 240 171.3 246 172.3 252 173.3 258 174.3 264 175.2 270 176 276 176.7 282 177.2 288 177.6 294 177.7 300 177.8 306 177.8 312 177.9 318 177.9 324 178 330 178 336 178.1 342 178.1 348 178.1 354 178.2 360 178.2 366 178.3 372 178.3 375M176.3 192 176.3 198 176.4 204 176.7 210 177.2 216 177.8 222 178.5 228 179.4 234 180.2 240 181.2 246 182.1 252 183.1 258 184 264 184.8 270 185.6 276 186.3 282 186.8 288 187.1 294 187.3 300 187.3 306 187.4 312 187.5 318 187.5 324 187.6 330 187.6 336 187.7 342 187.7 348 187.8 354 187.9 360 187.9 366 188 372 188 375M178.8 192 178.9 198 179 204 179.3 210 179.7 216 180.3 222 181.1 228 181.9 234 182.8 240 183.7 246 184.6 252 185.6 258 186.5 264 187.3 270 188.1 276 188.7 282 189.2 288 189.6 294 189.7 300 189.8 306 189.8 312 189.9 318 190 324 190 330 190.1 336 190.1 342 190.2 348 190.3 354 190.3 360 190.4 366 190.4 372 190.5 375M186.5 192 186.6 198 186.7 204 187 210 187.5 216 188 222 188.7 228 189.5 234 190.4 240 191.3 246 192.2 252 193.1 258 194 264 194.8 270 195.6 276 196.2 282 196.7 288 197.1 294 197.2 300 197.3 306 197.4 312 197.4 318 197.5 324 197.6 330 197.6 336 197.7 342 197.8 348 197.8 354 197.9 360 198 366 198 372 198.1 375M215.9 192 216 198 216.1 204 216.5 210 216.9 216 217.5 222 218.3 228 219.1 234 219.9 240 220.8 246 221.8 252 222.7 258 223.6 264 224.4 270 225.2 276 225.8 282 226.3 288 226.7 294 226.9 300 227 306 227.1 312 227.2 318 227.3 324 227.4 330 227.5 336 227.6 342 227.7 348 227.8 354 227.8 360 227.9 366 228 372 228.1 375M227.2 192 227.3 198 227.4 204 227.8 210 228.3 216 228.9 222 229.6 228 230.5 234 231.4 240 232.3 246 233.3 252 234.2 258 235.1 264 236 270 236.8 276 237.5 282 238 288 238.4 294 238.6 300 238.7 306 238.8 312 238.9 318 239 324 239.1 330 239.2 336 239.3 342 239.4 348 239.6 354 239.7 360 239.8 366 239.9 372 239.9 375M230.2 192 230.3 198 230.4 204 230.8 210 231.3 216 231.9 222 232.7 228 233.5 234 234.4 240 235.4 246 236.4 252 237.3 258 238.2 264 239.1 270 239.9 276 240.6 282 241.1 288 241.5 294 241.7 300 241.8 306 242 312 242.1 318 242.2 324 242.3 330 242.4 336 242.5 342 242.6 348 242.7 354 242.8 360 242.9 366 243 372 243.1 375" fill="none" stroke="#f0c070" stroke-width="0.75" stroke-opacity="0.8"/>
<path d="M129 216.3v2M185.2 238.3v1.8M215.5 290.9v2.2M213.6 252.6v2.5M202.2 320.1v2.8M137.1 230.7v2.2M206.3 312.6v2.6M221.4 246.8v1.8M154.9 246.6v1.8M160.7 251.3v2.8M225.6 267v1.6M170.9 250.5v2.7M97.5 230.6v2.2M126.6 231.2v1.6M178.7 266.3v2.4M182.1 307.8v2.9M186 237.9v2.2M118.8 216.2v2.2M190 235.6v1.9M164.2 285.7v2.6M215.5 225v2.9M191.1 229.9v2.2M178.2 319.6v2.1M170.7 316.1v2.7M220.6 268.3v2.5M203.8 288.8v2.6M225.4 327.4v2.3M200.2 251.8v2.9M208.8 255.1v1.6M153.6 278.3v2.7M159.8 218.3v2.7M118 253.5v2.7M113.7 232.1v2.3M191.2 311.6v2.5M220.8 271.6v2.9M106.4 240.5v2.3M180 275.1v2.8M169.5 250.8v2.1M207.4 318.6v1.8M208.2 326.4v2.3M171.2 238.1v2.3M161.9 284.6v1.5M223.9 274.3v2.1M201.5 279.7v2.2M186.9 222.6v2.3M217.8 246v2.2" stroke="#c89050" stroke-width="0.8" stroke-opacity="0.7"/>
<rect x="88" y="265" width="62" height="60.5" fill="#979797"/>
<path d="M139.8 285.4l2.3 5.1M102.5 267.1l1.1 6.1M149.9 265l-0 7.8M122.4 275.4l2 4.3M112.7 277.6l-3.7 8.1M101.3 286.6l-1.3 5.5M119.5 287.1l-1.7 8.8M139.4 264l4.6 6.3M145.8 273.2l3.1 8.3M99.4 263.4l0.4 4.6M91.7 279.6l1.3 7M91.2 264.2l-1.6 6.2M130.4 274.8l-2.2 7.3M106.4 265l3.4 7.1M90.1 273.9l5.2 6.8M136 270.1l0.2 8.1M138.9 272l2 6.3M116.9 286.8l2.2 8M99.8 276.1l-2.1 4.3M105.2 271.8l1.2 5.3M107.7 286.6l1.8 7.4M122.2 271.2l-1.4 4.5M121.9 276.6l-2.9 4.5M151.5 283.3l-2 4.1M151.1 286.4l-1.3 5.4M134.7 271.9l5 6.2M136 281.5l-4.1 8M135.6 269.9l2.2 3.8M97.9 268.1l1.4 7.8M129.7 285l1.4 4.9M150.9 273.4l4 5.4" fill="none" stroke="#50e050" stroke-width="0.8" stroke-opacity="0.85"/>
<path d="M126.8 286.1l4.9 6.2M113.3 275.8l-0.9 4.9M106.8 286l-4.6 7.7M131.2 262.5l-4 6.2M131.3 266.9l2.7 3.6M90.1 286.7l1.9 7.6M116.8 275.4l4.4 5.4M132.3 284l-2.1 5.9M112.7 267.1l4.1 5.1M116.9 262.3l-1.2 7.1M123.6 275.9l-1.8 8.8M134.8 268.7l1.8 3.9M110.8 264.6l-0.6 8.5M147.4 266.2l0 4.8M125.5 271.5l-0.6 7.2M104.7 280.6l1.4 3.8M139.9 277.7l0.4 7.1M130.1 273.8l0.8 6.9M127.8 281.6l-3.3 4.1M146.4 284.8l1.4 4.1M114.1 278.2l3.8 5.5M117.6 267.5l-3.5 6.9M100.1 273l1.5 7.9M129.1 287.7l-2.3 6.3M146.8 273.1l-2.2 3.9M105.7 282.2l-1.1 4.9M114.9 282.9l0.8 5.5M147.7 285.3l1.1 5.7M110 272.3l-0.4 5M136.1 284.9l-0.1 4.1M134.6 285.4l3.4 6.3M135.2 278.9l-1.9 4.8M120.4 281.9l-3.5 4.5M99.5 273l5.1 7.2M93.2 266.8l-1.6 4.9M125.3 267.8l2.4 4.8M149.2 274.5l-2.5 3.4M151.4 279.1l0.2 4.1M96.4 270.4l-0.2 8.3M128 287.8l3.1 5.9M106.6 270.1l0.3 5.5M110.9 280.5l0.4 6.8M111.9 279.3l-1.6 4.7M140.6 264.4l-1.1 4.3M132.7 266.7l-1.1 8.1M91.9 267.9l0.6 4.6M90.8 285.9l-1.3 6.4M136.6 283.3l0.7 5.6M129.6 277.8l1.2 5.5M128.9 264.8l-2.6 6M140.5 277.9l-4.2 6.6M148.4 278.3l1.5 4.1M124 280.1l1.7 8.5M105 285.3l-3.1 6.1M98.2 276.2l1.8 3.7M99.2 274.2l-0.6 5.9M97.5 275.5l1.6 6.7M125.6 274.2l-1.9 6.9M142.4 272.6l-3.7 5.8M120.7 275.7l2.1 8.3M115.5 275.1l-1.1 4.1M120.7 268.2l2.2 5.6M113.8 282.9l-0.7 7.7M148.8 262l1.3 5.3M124.6 263.2l2.3 8.2M109.4 274.3l-5.4 6.5M99.3 278.4l4.9 6.8M93 280.9l-4.2 7.4M91.2 267.8l3.1 6.9M147.2 279.3l3.9 6M125.6 269.4l4.4 6.7M104.8 281.6l-0.4 5.4M122.7 278.8l-2.8 6.7M101.6 274.7l0 6.9M97.9 265.9l0.6 6.5M106.5 263.1l-0.3 7.1M103.5 277.3l3.6 7.3M90 272.7l-3.1 4M116.1 281.4l-2.7 4.4M95.3 272.2l3.4 5.1" fill="none" stroke="#30d030" stroke-width="0.8" stroke-opacity="0.85"/>
<path d="M98.8 267.9l1.1 5.5M126.9 264.7l-0.1 4.6M128.1 275.8l-3.4 6.2M101.4 281.3l2.2 8.2M94.8 268.2l2.8 4.5M140.9 273l0.6 4.6M145 282.8l-1.5 8.2M103 285.7l-3.4 7.1M136.5 272.5l1 4.2M88.8 266.1l-3.1 5.1M120.5 286.4l-3.9 5M109.7 269.1l-0.9 6.8M90.9 265.1l-2.6 6.6M91.4 269.9l2.2 7.1M95.4 271.3l3 5M138.6 276.1l3 6.1M90.2 276.2l2.4 3.7M146.4 272.7l-3.5 6.5M120.6 280.5l0.7 6.1M110.5 282.7l3.2 6.2M136.8 262l-3.6 7.4M91.4 269l0.1 4.5M133.2 271.4l0.7 4.5M116.5 287.1l4.6 5.6M86.7 287.8l-0.8 5M87 272.4l-3.5 8.2M151.1 275.4l3.4 7.5M128.4 263l-2.8 3.8M145.6 264.6l-0.2 4.6M90.1 285.3l1.2 5.9M133.1 265.5l0.7 8.7M120.1 275.1l-0.2 7.4M148.8 266.5l-0.7 4.8M101.5 273.5l-3.1 7.3M88.3 277.5l-3.4 5.9M115.2 268.8l-2.4 3.7M123.5 276.1l2.5 4.6M102.8 266.2l-3.2 7.5M88.8 274.7l4.3 7.8" fill="none" stroke="#30c090" stroke-width="0.8" stroke-opacity="0.85"/>
<path d="M99.5 283.8l4.6 7.3M112.8 285.3l-2.7 7M132.3 281.8l-0.7 4.1M126.3 263.5l-0.2 6.1M135.4 263.3l4.9 7.2M137.3 275.8l-2.8 8.3M101.7 265l-1.4 7.8M132.8 276.8l-4.8 7.3M121.9 276.8l-3 6.6M139.2 283.7l-1.7 8.6M95.6 281.3l2.6 5.3M103.2 285.1l-0.4 5.7M138.1 272.8l-2 4M116.6 265.2l-2.5 3.9M89.6 280.9l-1 7.6M90.5 285.7l-3.6 6.4M118.9 286.3l2.5 5.8M105.5 286l-2.3 4.4M98.3 285.3l0.2 4.2M135.5 272l2.8 5.9M117.2 302.5l-3.6 -6.9M104.9 322.4l-3.3 -3.4M132 329.3l-0.9 -3.5M134.1 293l1.9 6.6M90.1 323.4l-1.2 -5.2M132.2 308.6l-0.5 -7.7M119.4 329.9l-0.8 -3.9M111.4 313.2l4.9 3.7M95.5 284.6l-2.4 -1.9M126 314.1l4.2 4.6M132.5 294.5l2.2 3.5M102.6 315.9l0.1 -5.7M118.7 329.6l4.5 6.3M92.4 296.4l-0.9 -6.4M103.9 299.2l1.8 2.6M113.6 321l0.1 -6M98.2 295.1l-3.9 -5.2M137.1 304.5l0.4 4.5M124.1 313.7l-2.9 -4.7M117.2 304.5l1 5.6M120.6 327.1l2.5 6.3M119.5 298.2l-5 -3.6M120.4 286.9l0.7 4.3M89.7 289.8l-4.7 -6.2M136 290.9l-0.2 -6.1M144.8 314.1l-1.2 -4.8M98.5 306l-2.7 -6.3M115.1 322.5l1.4 6.6M96.7 309.3l-2.4 -4.3M145.9 322.3l-5.7 -5.3M103.2 299.5l-0.5 -3.9M104 329.6l-0.8 -3.2M139.3 308.6l2.1 7M104.6 319.2l-4.4 -3.1M103.3 310.9l-4.4 -3.4M95.5 315.7l1.2 5.9M88.9 303.8l-3.7 -2.7M132 313l-2 -6.6M118.7 301.8l1.8 6.3M143.6 296.9l-2.1 -4.9M126.7 301.8l-2 -3.5M113.3 303.9l2.4 4.2M129.3 297.7l-3 -2.2M94.7 283.4l-0.3 -3.1M139.8 316.8l2.2 4.8M114.7 312.9l0.1 -4.7M117.5 295l3.8 5M128.2 299.6l0.2 3.3M123.3 317.1l-2.8 -3.9M126.5 284.6l2.3 7.2M121.6 301.9l2.8 3.4M131.6 329.1l-2.4 -2.3M96.5 283.4l2.9 4.2M106.2 321.7l2.8 2.1M113.1 311.6l-1.5 -3.2M134 282.2l1.4 5.5M103 323.7l4.4 6M121.8 294.3l-3.4 -3M123 326.9l-3.6 -4.7M121 293.9l-1.8 -7.1M123.1 308.5l-2.4 -5.3M125.3 310.8l-1.9 -5.1M124.8 308.3l4.5 3.7M140.7 303.5l-3.8 -3.7M97.2 293.1l-1.8 -4.8M121.5 307.1l0.1 5.8M89.7 290.4l-5.9 -4.2M134.7 295.1l-2.3 -2.6M145.7 311.9l1.5 5.5M126.2 326.2l-2 -4.1" fill="none" stroke="#3070e0" stroke-width="0.8" stroke-opacity="0.85"/>
<path d="M74.8 337.7l-5.8 -3.4M81.6 317.2l-2.2 -5.5M86 279.2l2.2 3.7M76.5 300.7l4.8 2.4M89.8 287.1l3.7 2.7M82.2 291l-6 -4M80.1 333.8l5.9 5.4M82.8 324.6l-1.9 -6.6M94.9 297.4l-1.5 -4M76.1 292.8l2 3.5M87.6 330.4l4.3 4.4M84.3 337.5l2.3 3.9M84 306.5l3.3 2.2M75.6 307.7l4.7 2.8M92.2 314.2l-7.5 -2.9M77.1 296.8l3.1 1.5M85.3 290l-3.2 -2.8M82.7 290.4l-3.4 -2.7M79.5 288.4l-2 -4.7M81 325.7l5.8 2.2M93.2 280.9l4.5 5.7M95.6 316.6l-4.7 -5.1M85.4 309.4l-6.7 -2.1M91.5 336.3l-4.1 -3M79.6 302.6l4 2.4M80.6 292.4l2.9 5.6M80.4 281.6l-2.6 -3.2" fill="none" stroke="#60d8e8" stroke-width="0.8" stroke-opacity="0.85"/>
<path d="M86.1 286.4l-6 -4.7M82.4 274.9l-4 -2.6M81.2 322.4l-2.5 -2.1M74.9 280.3l-2.6 -1.8M74.5 312.9l-2 -6.7M93.1 286l-2.6 -2.3M75.2 303.7l-4.3 -3.1M78.1 301.9l6.1 4.8M94.7 322.5l-4.6 -4M78.2 285.5l4 1.2M82.7 286.3l4.1 4.7M80.9 318.7l1.9 6.1M77.5 312.3l-4.6 -3.6M92.5 326.3l2.7 4.3M78.1 270.9l-2.3 -7.4M89.1 298.5l1.6 4.7M95.1 270.7l3.2 6.3M95.8 280.1l-2.9 -4M76.5 326.9l-3 -4.3M82.5 285.6l-4 -4.3M87.8 300.4l-2 -5.6M92.8 322.4l-3.4 -6.7M87.9 288.9l-5.7 -3M83 301.1l6.2 4.6M80.4 317.3l-3.2 -2.8M82.2 319.2l1.7 4.4M74.5 313l-3.5 -3.3M74.5 293.9l5.2 2.3M78.8 300.7l-2.2 -4.8M80.6 335.7l-6.8 -2.5M75.4 305.9l-4.3 -2.5M82.2 291.4l-2.1 -3.6M80.9 303.8l-6.4 -2.3M75.1 312.5l-4.5 -6.2M94.6 321.2l-1.5 -2.6M90.5 295.7l-4.7 -2.1M78.6 298.2l6.6 3M79.7 319.7l4 1.5M94 301l-2.1 -3.6M79.5 271.4l-3.5 -2.4M90.1 306.3l-3.6 -6.7M93.8 276.9l-1 -3.5M93.2 274.2l3.2 1.1M85.6 282.6l-3.3 -3.4M89.5 298.4l2.4 2.4M74.4 303.3l3.9 5.1M94.5 275.9l-7.4 -2.5M87.1 320.4l-6.7 -2.2M76.7 305.8l2.8 5.1M91.4 336.1l-2.5 -5.5M78.8 324.3l-4.5 -4.3M83.2 306.7l-1.6 -4.4M84.9 332.7l-4.7 -1.5M79.9 309l-4.9 -2" fill="none" stroke="#20a0d8" stroke-width="0.8" stroke-opacity="0.85"/>
<path d="M95.6 311.5l-2.9 -4.1M82.6 327.3l-6 -3.4M78 307.4l-3.5 -2M78 287.8l-4 -6.5M94 271.4l4.6 1.8M77.2 283.9l-5 -4.3M93.1 285.4l-4.1 -2.3M88.8 332.5l3.7 5.3M75.3 296.1l-4.6 -3M82.9 302.3l-5.4 -3.3M81.5 298.7l3.2 5M89.4 271.6l-4.5 -1.7M77 304.5l-1.4 -4.6M90.5 306.3l-3.4 -2.5M85.3 278.6l3.1 1.3M93.1 273.6l-2.5 -4.9M92.3 324.5l-2.8 -4M75.1 318.5l2.7 1.8M95.9 278.2l-2.1 -2.3M91.6 280l-1.2 -3.3M84.7 278.2l-2 -2.4M87.8 288.6l-4.3 -3.3M84.6 337.8l-5.2 -5.2M91.8 296.9l3.3 4.7M89.9 282l-3.5 -1.6M81.9 321.2l-5.3 -1.7M86.7 285.5l2.8 4M82 313.4l-1.6 -4.1M89 282.1l-3 -2.2M74.2 304.2l3.1 3.4M78.5 329.9l6.2 2.7M83.5 335.5l-2.7 -4.3M82.8 329l-5.6 -5.7M82 276.8l1.9 4.3M76.6 282.4l4.4 5.8M75.6 337.2l2.4 5.7M78.3 315.5l-2.5 -1.8M89.3 301.7l1.2 3.4M80.8 297.8l4.6 4.1M79.2 309.4l6.1 4.1M83.9 274.4l3.3 3M93.7 287.1l2 4.2M87 307.1l-6.9 -2.8M82.8 314.6l-6.9 -3.9M87.7 320.5l3.6 6.1M76.6 301.9l2.3 6.9M80.6 304.5l-5.3 -2.4M93 335.5l2.7 1.3M90.2 318.5l-5.4 -1.8M75.7 287.7l-6.1 -4.5M84.5 294.4l4.9 1.8M82 310.7l2.8 3.6M80.3 316.2l-3.4 -7.2M90.2 274.9l4.1 5.9M76.5 278.1l5.1 5.9M84.4 272.1l2.7 4M84.9 316.9l6.3 2.7M77.7 309.8l-4.2 -2.1M87 305.4l-2.4 -5.3M82.3 318.7l4 4.6M80.7 327.6l4.2 5M91.2 284.9l-3.5 -4.5M94.9 318.9l-3.8 -6.2M76.9 303l3.7 2.4M75.2 333.7l-6 -3.5M79.1 334.6l-4.4 -6.3M95.4 308.2l3.6 2.7M93.1 335.1l1.3 2.9M74.3 322.4l-4 -4.4M88.8 300.9l-6.6 -3.4M79.7 305.5l-6.5 -3.4M75.7 321.9l3.1 2.7M91.4 323.2l-5.4 -4.4M95.1 333.3l6.9 3.3M94.8 283.1l2.4 5.9M94.9 300.9l3 2M75.6 282.6l-2.7 -1.9M94.8 275.5l2.8 1.9M94.3 304.3l-3 -3.6M75.1 281.1l-5.8 -3.3M74.3 290.7l-2.6 -3.4M84.4 312.4l1.8 4.4M94.8 289.3l5.1 3.9" fill="none" stroke="#30c0e0" stroke-width="0.8" stroke-opacity="0.85"/>
<path d="M80.8 300.4l-2.5 -5.9M81.9 280.4l2.3 4.2M74.5 293.6l4.9 3.1M80.1 326.4l-1.7 -4.6M86.3 326.5l3.7 2.8M87.6 322l2.7 4.1M75.1 274.4l-4.2 -1.7M80 316.1l-4.1 -2.1M92.5 314.1l3.3 6.4M95.9 274.4l5.6 3.4M81.9 283.3l-3.3 -5.6M88.9 300.9l2.5 4.3M88.8 311.2l-2.2 -7.6M92.7 280.5l4.3 3.7M88.4 330.3l4.1 4.2M74.2 297.6l1.9 2.4M89 336.9l-1.6 -3M86.8 302.7l-2.5 -3.9M81.3 280.3l-3.1 -6.1M90.8 309.6l-4.2 -6.4M82.2 319.6l-3.6 -4.2M94.7 336.4l3.1 7M82.2 294.2l-6.1 -5M82.4 274.4l3.3 1.8M78.2 334.2l-1.5 -2.7M94.6 328l2.6 2.8M90.5 344.3l0.7 3M129.7 343.3l-0.4 6.3M102.4 339l1.5 2.6M124.1 334.6l-4.6 6.5M83.7 328.2l4.3 5M86.5 330.6l2.6 3.9M89.1 336.9l-1.1 7.2M95.1 339.5l2.1 3.5M110.3 341.6l0.5 7.1M121.9 329.4l4.4 4.9M150.4 344.3l2.9 2.9M97.4 344.7l1.6 2.8M121.6 326.7l-2.2 5.3M131.9 335.9l-2.3 4M133.1 325.9l3.5 4.2M104.2 343.9l2.9 4.2M83.5 338.5l0.1 5.5M102.7 331l-1.8 4.1M99.6 328.4l2.7 3.2M147.9 337.5l3.1 3.6M103.7 328.8l-1.2 6.2M86.3 326.5l-3.5 7.1M121.3 343.5l0.3 3.1M142.7 338.9l-3.1 7M88.2 330l-2.6 6.5M151.3 342.3l-3.3 5.8M88.7 338.7l0.9 7.5M103.1 336.4l-1.8 2.8M106.6 339.6l0.1 7.8M125.8 338.4l-0.4 3.9M98.4 344.2l-3.7 3.8M136.3 342l0.9 3.5M86 332.4l-3.8 3.8M109.5 334.4l-0.9 6.3M99.1 342.1l5.8 5.3M113.4 330.8l-0.8 6.2M147.7 333.3l-0.5 6.7M100.9 327.5l-0.5 7.1M150.7 340.8l1 5.9M105.9 339.6l0.1 6.5M118.6 335.3l-2.7 5.5M88.1 325.7l2.9 5.7M149.1 330.1l-3.8 3.8M91.1 329.3l1.4 4.6M89.5 343.3l2.6 5.3M103.4 344l5.3 4.9M97 344.7l1.3 2.9M106.1 335.1l0.3 4.5M113.8 327.8l-0.6 5.9M101.9 332.8l-2.3 3.4M101.8 335.5l0.5 3.6M101.8 334.6l0.8 5.7M103.5 332.9l-4.9 4.8M115.9 360.1l-0.4 3.1M116.1 351.5l-2.6 3.6M128.1 363.6l-0.3 3.8M101.8 353.3l-0 3.3M123.6 371.5l-3.2 3.5M133.4 356.6l-2.2 4.6M108.6 362.7l0.9 3.9M122.6 369.6l2.9 3.8M108.4 373.5l-0.9 3.4M121 370.2l1.1 5.9M111.9 367.2l1.1 6.4M97.3 367l0.3 6.1M135.7 361.1l0.8 3.1M111.2 358.3l-3.4 3.2M130.8 351.9l-2.1 5.7M88.2 354.3l-0.3 6.2M111.2 348.1l0.4 3.9M85.4 369.3l1.4 5.6M112.1 366l2.3 2.2M155.1 373.8l3.2 5.3M127.7 355.8l2.9 5.1M112.4 352.1l2 3M117 348.4l1.4 3.9" fill="none" stroke="#2050d0" stroke-width="0.8" stroke-opacity="0.85"/>
<path d="M115.9 312.8l-2.2 -3.8M136.4 320.6l2.1 7.3M123.4 325.7l4.9 3.8M94.3 329.1l3.2 3.2M107.2 326.5l0.1 4.5M108.6 307.3l-3.3 -5.3M101.7 304.7l1.8 3.1M115.5 327.8l-2.6 -2M115.2 287.1l3.4 6.4M96.6 296.9l-5.1 -5.8M128.6 298.2l-2 -3.6M113 321.7l-4.6 -4.5M129 292.4l-5 -5.4M98 304.3l-4.4 -4.6M110.7 308l2 3M109.6 315.9l-2 -2.5M109 311.1l2.9 6.9M123.2 314.7l-4.4 -5.4M115.8 299.2l-1.7 -2.7M125.8 304.6l-4.8 -5M92.3 326.3l3.7 4.8M93.8 320.3l-2.5 -3.7M96.2 312.6l2.2 2.6M111.8 289.5l0.4 5.9M142.4 290.2l-0.7 -3.9M142.5 326.7l-4.8 -5.3M116.3 324.9l1.5 5M112.1 315.4l5.2 3.7M136.2 312l0.7 5.9M145.5 304.2l-4.1 -2.9M131.4 322.3l5 4.7M92.4 286.8l0.9 3.5M123.5 311.9l-3 -3.3M113 323.6l0.6 6.8M103.8 299.4l1 7.1M95.2 303.1l4.8 6M128.8 302.5l3.9 3.7M108.8 289.9l-1 -3.8M137.6 310.4l-4.2 -4.7M115.8 287.3l-3.8 -3.9M145.7 298l-2.3 -4.7" fill="none" stroke="#30a0e0" stroke-width="0.8" stroke-opacity="0.85"/>
<path d="M134.4 293.3l4.6 5.3M129.3 320.9l-0.6 -3.8M138.3 318.9l2.9 6.8M132.5 313.1l-2.7 -4.5M111.3 314.2l1.1 4.3M110.7 310.3l1.5 6.6M133.3 297.6l5 5.9M94.8 286.1l-4.3 -5.1M128.3 283.3l5 5.3M104.6 291.2l2 6.9M117.9 296.9l0.1 -5.6M120.7 300.4l-1.1 -4.1M131.5 319.6l-5.4 -5.4M120.7 288.3l-1.1 -3.1M115.9 316.7l-4 -6.5M111.1 297l-1.5 -5.1M112 290.8l1.7 5.6M112.6 295.4l1 3M133.2 297.9l5.8 4M88.2 329.4l3.6 3.4M144.7 290.5l-0.2 -7.1M101.4 316.8l-2.4 -2.4M134 294.6l2.7 7.1M105.6 303.2l4.4 4.6M142.7 310.6l2.2 2.5M116.6 298.5l1 5.4M118.5 321.3l0.7 3.2M101.7 293.6l-4.9 -5.7M144.1 328.6l1.2 5.2M141.7 322.4l-2.8 -6.5M130.4 322.1l2.5 2M134.9 328.1l-3.9 -6.9M123.6 312.6l-3.5 -5M128.6 310.6l-5.3 -4.1M113.9 283.3l1.4 2.9M127.3 287.6l3.9 5.2M138.7 284.4l1.2 4M122.4 312.9l-5.3 -4.8M116.3 325.8l-1.2 -7M108 284.7l0.1 -5.4M135.4 317.5l-2.7 -4.6M123.7 308.3l-2.5 -3.7M129.7 311.6l1.2 5M124 304.7l4.7 5.2M99.4 294.6l3.8 3.6M133.6 293.9l2.6 2.3M142.8 303.7l-3 -4.6M127.7 302.4l-4.4 -3.7" fill="none" stroke="#2858e8" stroke-width="0.8" stroke-opacity="0.85"/>
<path d="M102.2 326.1l3.3 4.5M125.1 305.6l-3.9 -2.8M106.3 295.1l1.8 6M143.8 319.2l-1.9 -4M99.6 309.9l-3.6 -2.9M96.7 308.5l-1.6 -6.4M128.3 303l2 4.7M106.3 329.2l3.1 3.3M117.5 301.7l4.9 5.6M129.1 303.5l-2.6 -4.5M124.2 301.7l-3.4 -6M139 303.8l-0 7.5M119.3 329l-5.4 -3.8M99.4 325.8l0.9 5.8M118.6 305.8l0.5 6.1M104.8 320.7l-1.3 -3.5M100.9 311.7l-4.6 -6.3M101.3 316.5l5.1 4M119.5 310l1.9 2.6M122.8 323.4l2.9 2M104.8 308.9l-3.2 -3.6M103.1 282.8l-3.8 -4.6M101 283.1l0.5 3.1M131.2 303.8l0.5 5.7M141.2 322.1l-0 4.2M145.6 282.6l-1.6 -4.7M126.1 292.3l4 5.5M132 284.7l-5.2 -4.7M116.7 328.5l0.2 4.4M91.8 291l0.6 4.4M91.4 305.6l-4.5 -3.4M145 299.8l1.4 3.5M99 316.8l-5.9 -4.3M91 321.6l-3.1 -2.3M138.9 300.3l0.4 3.2M141.1 283.8l-3.1 -3.2M99.6 312.7l-1.6 -3.5M123.7 291.3l0.3 3M137.5 318.7l1.8 7.7M106.7 311.1l0.6 5.2M120.3 298.3l-2.5 -1.7M133.4 328.4l-4.4 -4.2M91.4 286.7l0.8 5.2M119.8 323.1l-1.2 -3.4M101.3 283.4l-1.4 -3M123 321.6l1.1 3.4M117.3 320.6l-3.6 -6.7M127.3 289.2l1.8 4.8M113.8 296.2l-5.1 -5.4M139.4 305.2l0.3 3.7M91.7 314.4l-1.9 -4.9M142.3 298.1l-5.2 -4.5M123 304.6l5.2 5.5M140.4 320.2l4.1 3.7M143.1 323.5l-3.5 -4.6M131.1 318.4l1.4 4.9M114.9 287.7l-0.6 -3.8M125.4 299.5l-0 3.9M138.8 328.5l-3.5 -5.2M109.2 313.1l0.6 4.7M127.2 322.5l-4.1 -4.7M101.1 324.1l-3.7 -3.9M106.9 291.2l0.6 3.3M108.5 328.7l0.8 7.6M95.3 320.8l-4.4 -3.7M133.8 321.6l-3 -2.2M93.4 324.4l0.9 4.2M127.2 287.1l1.7 3.6M95 289.9l-0.5 -7.5M95.4 298.9l1.5 6M108.8 283.6l0.1 5.1M89.8 297.2l3.4 3.1M136.7 300.3l2.9 2M132.6 317.4l-3 -4.3M138.2 306.5l-2.8 -3.4M107.7 292.9l1.7 2.8M111.2 309.1l-0.9 -2.9M116.5 300.1l-2 -2.5M113.7 307.2l0.6 3.4M122.7 325.6l3 4.5M97.5 309l3.1 6M105.8 324.4l1 4M133.1 295.2l-1.6 -6.4M142.2 307.3l-3.2 -4.4M139.3 326.9l3.4 4M94.4 298l2.7 4.6M89.1 286.4l-0.9 -6.6M96.5 328.6l0 4.1M134.6 304.2l1.5 5M94.3 282.2l-2.9 -3.1M108.4 329.6l-1.2 -4.2M105.7 301l3.1 5.1M107.7 328.9l-3.8 -4.2M105.5 325l-2.4 -4.9M119 285.1l0.7 4.4M124.2 311l-3.5 -7M144.9 300.5l-4.1 -4.8M105.5 311.1l0.4 6.3M139.6 326.2l5.5 4.5M88.1 320.1l-1.1 -7.3M108.3 319l3.3 2.2M130.2 293.7l0.4 7.8M119.4 284.5l-5.9 -4.7M90.5 324.3l-2 -2.8M113.6 320.8l-4.7 -5.3M128.3 292.7l3.4 4.2M93.2 315.3l2.4 2.1M137.3 324.3l5.7 5.5M142.6 292l2.8 2.3M123.2 304.9l-4.6 -4.2M96.3 305.6l2.1 7M103.8 311.6l0.1 6.4M96.5 309.3l-4.1 -3.3M133.8 309.4l-1.8 -3.2M95 285.8l0.5 3.6M138.3 308.6l0.6 4.3M125.5 312.4l2.1 3.4M142.7 310.4l-1.3 -3M142 291.9l2.5 1.8M138.5 289.4l3.9 4.4M140.9 317.9l3.8 4.7M123.4 293.6l5.1 4.7M89.6 299.6l3 6.6M118.1 303.8l-5.4 -4.4M104.2 291.7l-1.5 -3.1M114.9 315.1l2.5 6.2M130.6 316.5l0.1 -7.8M145.7 311.8l2.8 2M118 329.8l6 4.2M113.6 323.7l2.7 5M134 310.8l-2.8 -7.2M119.8 323.6l-2.9 -5.5M119.7 298.1l3.3 5.6M102.8 323.3l-3.7 -6.3M93.4 329.4l-0.5 -3.2M88.7 284.6l0 5.5M117.3 315l2.4 6M92.9 313l2.5 2M98.7 308.9l4 6.6M110.7 319.1l-2.4 -4.8M130.5 294.2l-1.5 -3.9" fill="none" stroke="#2040d0" stroke-width="0.8" stroke-opacity="0.85"/>
<path d="M134.1 292.5l-1.3 4.7M128.6 318.1l3.1 3.3M133.6 312.7l0.2 3.9M149.1 321.4l-1.2 6M135.3 309.3l1.4 4M147.4 310.5l0.7 4.7M143.6 293.2l-0 4.7M150.8 285.8l-2.3 6.5M134.7 280.8l1.1 3.1M150.5 308.3l3.2 5.5M145.3 303.9l1.3 3.5M141.2 305.2l3.7 4.4M148.3 290.3l2.9 5M144.9 315.3l1.3 6.6M142.8 297.4l1.8 4.4M128.6 302l2.2 2.9M147.7 296.4l0.6 3.4M135.1 284.7l1.8 4.6M129.5 281.5l0.1 6.5M142.6 310.8l1.6 6.7M141.4 310.8l-1 4.9M129.9 307.7l0.5 5.4" fill="none" stroke="#40d0c0" stroke-width="0.8" stroke-opacity="0.85"/>
<path d="M131.7 306.4l2.2 3.2M145.6 307.8l3.8 4.7M141.5 307.1l0.2 6.4M141.3 290.4l2.3 5.1M140.5 295.3l0.4 4.1M140.1 284l-1.8 4.6M134.9 308l2.6 3.1M150.7 299.6l-0.7 6M148.5 303.2l0.6 4.8M136.4 304.4l2.3 3.3M142.6 307.7l1.8 6.3M145.6 286.5l1.3 4.3M136.7 286.7l-1.1 3.2M136.5 309.9l-3.1 6.2M142.2 282.9l-0.4 4.3M128.2 311.7l0.4 4.7M148.2 306.6l2.4 5.1M135.4 320.2l0.1 4M144.1 319.5l-1 4.2M132.3 292.8l2.4 3.4M145.5 283.3l1.7 4.7M141 286.5l-3.5 5.8M132.1 307l3.7 4.3M146.8 301.9l3.2 3.3M133 300.6l3.3 3.9M133.8 310.1l-2.9 4M137.5 311.7l1.9 4.5M140.3 297.3l-1.3 3.6M132.3 320l0.6 5M132 291.2l2.4 2.8M143.5 308l1.2 6.7M145.8 292.9l-1.6 5.7M142.9 306.7l-1.1 4.3M130.7 281.6l-0.7 6.4" fill="none" stroke="#30b8e0" stroke-width="0.8" stroke-opacity="0.85"/>
<path d="M147.2 305.4l2.3 2.9M132.5 302l-0.6 4.8M142.7 303.1l2 4.3M138.7 298l-1.8 5.7M141.9 304.6l-2.4 4M128.7 302.1l-2.2 4.1M139.9 309l2.2 2.6M146.8 301.3l3 3.3M152 302.9l0.6 5.4M150.6 302.7l0.5 3.4M142.7 297.2l-0.6 4.3M140.4 281.6l-0.9 6.3M139 318.9l-1.3 4.7M142.4 284.9l-1.3 3.5" fill="none" stroke="#2060d8" stroke-width="0.8" stroke-opacity="0.85"/>
<path d="M148.5 271.6l-0.2 6.4M148.9 271.4l-1.5 6.7M152.2 271.7l-0.8 5.5M154.4 290.1l1 4.8M154.7 301.2l3.2 5.3M151.8 308.1l1.7 5.9M153.2 285l0.8 6.2M149.3 268.4l-0.4 4.5M146.9 271.8l-1.5 6.6M151.8 272l-0.5 5M150.8 280.7l-0.3 3.2M147.3 272.5l0.3 3.9M150.1 294.4l0.7 3.2M152.9 272.2l0.9 3.8M146.8 288.1l1.6 3.4" fill="none" stroke="#40c8a0" stroke-width="0.8" stroke-opacity="0.85"/>
<path d="M148.3 301l1.1 3.5M156.5 269.6l-0.5 5.9M155.9 306.6l0.2 3.1M149.1 288.4l2.5 5.8M146.2 287.9l0.2 3.1M152.6 291.9l0.7 5.2M149.3 277.8l1.3 4.8M152.4 297.7l2 5.1M148.9 295.6l1.8 3.2M149.7 282.1l-0.6 3.4M151 310.6l0.1 4.9M146.3 308.4l2.9 4.9M153 292.9l1.8 3.1M152.4 285.6l-0.1 3.6M146.2 290.6l0.5 3.5M152 296.2l0.2 3.9" fill="none" stroke="#50d040" stroke-width="0.8" stroke-opacity="0.85"/>
<path d="M153 302.7l2.4 6.3M152.8 310.2l-0.5 5.9M147.9 297.3l1.3 3.6M150 300.3l2.2 3.7M154.2 277l-0.7 5.9M149.9 309l0.7 3.7M151.9 277.4l-0.1 4.2M146.6 305l1.2 3.5M148.6 269.2l-0.8 6.4" fill="none" stroke="#b0e040" stroke-width="0.8" stroke-opacity="0.85"/>
<path d="M141.6 328.5l-1.1 5.9M125.1 335.6l2.8 3.1M84.1 336.2l-5.1 5.4M106 330.5l3.1 2.8M112.3 334.1l-4.5 6.1M116 340.8l-3 6.1M105.3 339.5l0.6 3.8M88.2 339.1l-2.7 4.8M118.4 343.8l0.1 3.9M129.7 344.4l-1 6M85.1 328.5l-4.6 5.4M144.3 343.4l2.9 7.3M124.2 339.8l-2.8 3.6M137 344.5l-2.3 5.7M148.9 339.2l1.9 2.9M98.6 336l2.5 2.8M129.4 341.1l-4 3.9M135.8 339.5l-3.6 4.1M86.1 335.8l1.7 6.3M80.6 342.7l-0.1 4.3M89.3 335.1l0.5 4.4M112.7 329.3l2.4 4M121.5 324.8l2.3 3.7M81.2 324.6l3.9 3.4M92.6 341.8l2.5 4.6M92.6 331.3l0.6 3.2M98.9 340.2l0.5 3.4M109.3 344.8l4.5 5M145.9 335.4l-4.2 5.7M136.4 343.9l-1.9 5.5M94 332.6l-2.2 5M144.9 331.8l-0.1 3.4M109.6 343l-1.9 3.7M105.6 337.1l-0.4 4.6M124 333.7l-3.2 4.7M143 341.8l-3.5 3.5M145.6 324l0.8 3.4M108.1 329.8l-1.3 3.9M128.2 339.6l4.1 3.7M117.4 324.7l1 3.5M114.2 328.6l-2.4 2.7M150.9 343.2l-2.3 3.3M111.1 341.8l1.6 4.3M134.5 327.5l-1.2 6.2M91.5 343.1l-4.8 5.3M82.5 342.7l-4.5 4.9M115.5 340.8l1.8 3.4M138.8 324.5l1 4.8M140.9 342l1.7 6.5M135.2 337.9l0.8 5.3M139.6 338.3l1.5 3.4M118.4 327.5l-0 6.4M83.5 334.4l0.5 5.9M88.1 339.3l-0.6 4.9M99.4 343.4l-0.1 3.4M145.3 341.5l-2.1 7.2M131.5 338l2.1 5.1M126.7 327.5l1.6 3.9M146.3 342.5l3.6 6.7M89.4 337l-0.6 3.8M133.3 333.5l4.8 6M115.6 342.3l-1.5 4.7M131 334.8l-4 6.3M134.6 337.8l1.8 3.6" fill="none" stroke="#40c0e0" stroke-width="0.8" stroke-opacity="0.85"/>
<path d="M123.1 343.1l-2.4 6M124.6 332.3l3.4 4.2M111.3 341.1l-5.2 4.8M106 335.2l-1.8 2.5M84.4 325.7l4.5 6.3M93.6 333.7l-1.4 5.6M84.1 340.2l-0.7 3.5M97.7 344.9l1.8 6.4M149 340.7l4.7 4.3M147.4 330.3l0.2 5.7M80.2 344.3l3.7 3.9M104 333.2l-1.2 3.2M86.9 335.7l-1.7 4.4M145.8 333.8l1 3.8M137.5 330.2l-1.4 5.8M152 336.4l-1 5.3M81.1 327.1l-5.1 6M140.8 330.7l-4.7 6.1M149.9 340l1 6.4M95.7 337.8l-3.9 4.9M82.2 338.8l-2.1 3.3M113.1 335.7l-0.1 5M110.8 338.3l1 3.9M134.8 344.3l0 6.1M145.6 341.9l0 6.1M120.7 342.1l-2.6 5.7M108.1 333l-1.6 3.7M147.4 326.2l-0.1 3.3M89.6 335.4l-4.8 5.4M88.2 333.6l-3.3 3.6M144.2 328.9l0.1 3.2" fill="none" stroke="#70d8e8" stroke-width="0.8" stroke-opacity="0.85"/>
<path d="M96.3 334.2l-0.8 6.6M85.3 337.6l-3.9 4.8M124.2 343.2l0.5 3.7M119.2 337.7l1.3 4.5M140.1 338.4l1.9 3.1M102.6 334.7l-4 6M105.2 326.7l1.3 3.8M119.2 334.2l-4 6.9M117.9 343.3l-2.7 4.2M89.4 342.5l-2.2 4.3M95.7 324.4l-2.3 6.5M130.9 333.7l-3.6 5M151.4 343.1l-2.9 7.3M85.3 337.1l-0.9 6.8M82.1 331.6l1.9 4.5M96.1 338.7l-2 2.3M117.5 338.3l4.1 5.9M109.7 328.9l-2.9 3.6M148.5 332.1l-2.4 7.4M125.4 343.3l1.1 5.3M131.9 338.8l-1.1 5.2M140.3 334.4l1.1 6.7" fill="none" stroke="#3080e0" stroke-width="0.8" stroke-opacity="0.85"/>
<path d="M123.7 361.7l-2.6 3.3M115.9 348.2l2.4 2.2M110.5 361.7l-2.8 4.1M145.7 369.5l3.8 4.7M108.3 364.2l-2.3 3.8M102.5 364.3l0.9 4.1M104.6 374.8l-0 4.4M91.1 352.6l0.6 4M138.1 348.8l-2.4 6.6M91.1 360.2l2.6 4.9M129.5 354.2l-4.5 4.9M115.7 372.5l-3.2 3.5M108.1 361.4l3.4 5.4M84.1 346.4l4.1 4M126.6 372.6l-1.9 3.6" fill="none" stroke="#60c8e0" stroke-width="0.8" stroke-opacity="0.85"/>
<path d="M119.9 354.2l-1.4 5.9M87.2 361.1l-3.3 4.1M94.9 362.5l-2.8 5.9M116.2 357.2l0.3 6.6M104.7 361.4l1.9 4.4M103.8 346.4l3.7 4.3M121.8 372.1l1.9 4.8M114.5 372.6l-1.9 6.2M101.9 352.2l2 4.6M118.6 354l-3 5.8M124.4 366.7l2.7 4.4M126.9 370.6l3.5 3M92.2 351.6l-2.9 3.4M112.3 346.5l0.5 3M90 345.3l1.6 6.1M142.6 351.6l1.9 2.4M133.6 369.2l-1.4 5.7M106.3 355.8l-2.2 6M132 358.3l1.7 6.2M107.9 372.3l4.7 4.3M125 369.7l-2.5 2.8M103.6 370.5l3.7 5.6M115.9 345.1l3.5 5.5M100.1 364.7l1.4 3.9M121.8 373l1.4 4.3M86.5 350.4l3.1 4.1M136.8 365.9l-2.2 2.7M115 354l1.1 4.4M120.5 355.3l-3.9 4.5M119.6 360.1l-0.7 3.9M125.1 349.5l1.6 6.2M121.8 358.9l3.6 3.5M120.9 363.6l-1.8 5.2M85.6 350.1l-1.2 2.8M111.8 351.6l2.9 3.6M107.5 362.1l0.8 6.9M113.3 361.7l2.1 5.1M122.6 370.6l-0.9 4.3M121 350.8l-0.5 5.1" fill="none" stroke="#40b8e0" stroke-width="0.8" stroke-opacity="0.85"/>
<rect x="106" y="284" width="24" height="23.6" fill="#9a9aaa" fill-opacity="0.5"/>
<rect x="106.3" y="284.3" width="23.4" height="23" fill="none" stroke="#ff1a1a" stroke-width="1.6"/>
<rect x="113.6" y="291.2" width="9.4" height="9.4" fill="#5a5a5a" stroke="#000" stroke-width="1.3"/></svg>
<svg x="239.3" y="192" width="229.5" height="183" viewBox="239.3 192 229.5 183" overflow="hidden"><path d="M239.3 192.5h64.8M304.1 192.5h78.6M382.7 192.5h74.2" fill="none" stroke="#f6c040" stroke-width="1.05"/>
<path d="M456.9 192.5h11.9" fill="none" stroke="#f0a020" stroke-width="1.05"/>
<path d="M239.3 193.5h90.5M239.3 196.5h58.1M309.9 197.5h39.1M349 197.5h15.3M255.7 199.5h44.3M284.5 206.5h91.8M283.2 207.5h77M428.3 207.5h40.5M276.8 208.5h76.6M391.9 208.5h67M239.3 209.5h35.1M393.2 209.5h42.8M282.3 210.5h84.6M357.6 211.5h70.3M239.3 212.5h77.4M449.9 212.5h18.9M256.5 213.5h50.3M306.8 213.5h32.5M362.4 214.5h63.9M319.8 216.5h80M277.2 221.5h24.8M239.3 223.5h66.6M330.2 224.5h74.6M390.7 225.5h71.7M239.3 228.5h27.3M379.9 228.5h78.3M458.3 228.5h10.5M416.4 230.5h27M461.4 232.5h7.4M294.8 233.5h59.4M347 234.5h72.1M419.1 234.5h21.8M402 235.5h66.8M272.1 236.5h92.8M383.1 237.5h81.5M398.4 241.5h70M239.3 242.5h24.4M263.7 242.5h38.3M284.7 247.5h88.7M293.2 248.5h45.1M426.1 249.5h42.7M239.3 251.5h75.2M401.2 251.5h67.6M333.4 253.5h76.1M462.9 259.5h5.9M341.3 263.5h69.4M239.3 270.5h73.2M329.4 272.5h81.8M318.6 274.5h88.9M407.5 274.5h61.3M308.7 276.5h54.6M439.9 280.5h28.9M320.4 283.5h45.3M468 283.5h0.8M406.3 285.5h62.5M283.8 288.5h61.5M462.2 290.5h6.6" fill="none" stroke="#f8e2a0" stroke-width="1.05"/>
<path d="M329.8 193.5h87.1M416.8 193.5h52M297.8 194.5h16M351.2 194.5h76.3M427.5 194.5h41.3M239.3 195.5h64.4M318.8 195.5h31.8M399.1 196.5h69.7M239.3 197.5h43.9M283.2 197.5h26.7M364.2 197.5h42M279.6 198.5h71.4M350.9 198.5h93M300 199.5h15.7M281.5 201.5h58.6M340.1 201.5h40.3M380.5 201.5h21.3M239.3 202.5h27.9M361.2 202.5h47.5M327.8 203.5h82.1M386.4 205.5h53.3M439.8 205.5h29M431.2 206.5h22.1M427.9 211.5h40.9M239.3 213.5h17.2M339.3 213.5h65.5M404.8 213.5h52.7M457.5 213.5h11.3M239.3 214.5h40.4M279.7 214.5h30.5M300.8 215.5h44.9M345.7 215.5h64.1M399.8 216.5h44.6M394.6 217.5h74.2M262.9 218.5h64.2M437.6 218.5h31.2M424 219.5h44.8M332.8 220.5h48.2M302 221.5h50.5M239.3 222.5h77.6M316.9 222.5h36.4M353.3 222.5h94.1M305.9 223.5h74.5M380.4 223.5h75.8M404.8 224.5h17.9M285.1 226.5h83.2M277.2 227.5h87.9M266.6 228.5h79.9M332.6 229.5h71.1M403.7 229.5h65.1M306 230.5h72M443.3 230.5h25.5M239.3 231.5h64.8M327.7 231.5h20.8M409.5 231.5h59.3M425.6 233.5h43.2M273.1 234.5h73.9M440.9 234.5h22.3M463.2 234.5h5.6M382.7 235.5h19.3M239.3 236.5h32.8M365 236.5h80.6M337.2 237.5h45.9M459 238.5h9.8M239.3 239.5h31.2M356.6 239.5h75.8M303.9 240.5h52.2M356.1 240.5h27.4M428.4 240.5h40.4M302 242.5h73.3M375.4 242.5h31.1M406.4 242.5h33.4M409.5 243.5h28.1M306 244.5h93M418.9 244.5h47.8M295.8 245.5h22.5M405.2 245.5h63.6M239.3 246.5h34.5M273.8 246.5h46.8M356 246.5h39.5M373.4 247.5h83.5M451 248.5h17.8M366.1 249.5h25.4M391.5 249.5h34.6" fill="none" stroke="#f0a420" stroke-width="1.05"/>
<path d="M239.3 194.5h58.5M406.3 197.5h62.5M239.3 198.5h40.3M465.3 199.5h3.5M416.6 200.5h22.3M267.2 202.5h93.9M239.3 203.5h51.5M310.2 203.5h17.6M304.7 204.5h23.5M355.2 204.5h38.6M239.3 205.5h93.1M376.2 206.5h54.9M239.3 208.5h37.5M458.8 208.5h10M460 210.5h8.8M267.6 211.5h90M316.7 212.5h68.2M310.2 214.5h52.2M460.4 214.5h8.4M239.3 215.5h37.3M409.8 215.5h58.6M239.3 216.5h80.5M444.4 216.5h24.4M330.9 217.5h63.7M239.3 218.5h23.6M392.5 218.5h45.1M239.3 219.5h92.8M239.3 220.5h93.5M381 220.5h87.8M239.3 221.5h37.9M430 221.5h16.1M447.4 222.5h21.4M456.2 223.5h12.6M239.3 224.5h38.7M278 224.5h52.1M239.3 225.5h86M341.5 225.5h49.2M239.3 226.5h45.8M427.3 226.5h41.5M365.1 227.5h53.3M418.3 227.5h50.5M304.1 231.5h23.7M239.3 232.5h49.5M351.9 232.5h90.1M239.3 234.5h33.8M445.6 236.5h23.2M239.3 237.5h33.8M273.1 237.5h64.1M464.5 237.5h4.3M384.8 238.5h74.2M239.3 240.5h64.6M383.5 240.5h45M239.3 241.5h35.3M274.6 241.5h27.9M239.3 243.5h44.1M283.4 243.5h52.4M239.3 244.5h66.7M239.3 245.5h56.5M320.6 246.5h35.4M239.3 247.5h21.7M411.4 248.5h39.6M239.3 249.5h24.3M285.6 249.5h80.6" fill="none" stroke="#f6c448" stroke-width="1.05"/>
<path d="M313.9 194.5h37.4M444.2 195.5h24.6M297.4 196.5h31.4M328.8 196.5h70.3M315.8 199.5h29.5M376 199.5h89.4M398.7 200.5h17.9M438.9 200.5h29.9M239.3 201.5h42.2M290.8 203.5h19.5M409.9 203.5h58.9M353.3 208.5h38.5M366.9 210.5h93.1M468.4 215.5h0.4M239.3 217.5h91.6M332.1 219.5h91.9M446 221.5h22.8M422.7 224.5h46.1M462.4 225.5h6.4M239.3 230.5h66.7M378 230.5h38.4" fill="none" stroke="#e0e870" stroke-width="1.05"/>
<path d="M303.7 195.5h15.1M350.6 195.5h93.6M443.9 198.5h24.9M319.9 200.5h78.8M408.6 202.5h60.2M328.3 204.5h26.9M393.8 204.5h75M453.3 206.5h15.5M274.4 209.5h52M436 209.5h32.8M239.3 210.5h43M239.3 211.5h28.3M276.6 215.5h24.2M352.4 221.5h77.5M368.3 226.5h38.7M407 226.5h20.3M346.5 228.5h33.4M239.3 233.5h55.5M336.4 241.5h17.6M353.9 241.5h44.5M468.5 241.5h0.3M437.5 243.5h31.3M338.4 248.5h73.1" fill="none" stroke="#fbf0d8" stroke-width="1.05"/>
<path d="M239.3 199.5h16.4M345.2 199.5h30.7M239.3 200.5h57M296.3 200.5h23.6M239.3 204.5h65.4M332.4 205.5h54.1M239.3 207.5h43.9M360.2 207.5h68.1M326.4 209.5h66.8M385 212.5h64.9M325.3 225.5h16.2M239.3 227.5h37.9M348.5 231.5h61" fill="none" stroke="#c8e490" stroke-width="1.05"/>
<path d="M401.7 201.5h67.1M239.3 206.5h45.2M239.3 229.5h93.3M439.9 242.5h28.9M466.7 244.5h2.1M395.5 246.5h18" fill="none" stroke="#98e8d0" stroke-width="1.05"/>
<path d="M426.3 214.5h34M327.1 218.5h65.4M289.7 252.5h67.4M452.1 253.5h16.7M453.6 256.5h15.2M382.1 257.5h19.2M332.4 262.5h46.9M451.7 272.5h17.1M331.3 277.5h74M376.6 279.5h45.9M459 282.5h9.8M239.3 283.5h81.1M365.6 283.5h75.5M288.8 285.5h86.8M302.2 286.5h33.9M278.1 290.5h67.4M390.1 290.5h72.1M448.8 301.5h20M381 311.5h64.6M322.5 315.5h48.7M403.6 317.5h65.2M239.3 318.5h34.1M437.4 319.5h31.4M239.3 320.5h50.6M426.9 321.5h41.9M239.3 322.5h64.9M304.2 322.5h64.1M320 323.5h39M404.3 324.5h51.5M239.3 325.5h69.6M307.1 326.5h85.6M239.3 327.5h69.6M427.2 330.5h38.6M239.3 335.5h41.2M313 338.5h23.7M333 340.5h44.6M334.1 341.5h74.8M465.6 342.5h3.2M383.5 344.5h85.3M239.3 346.5h88.6M255.1 347.5h83M430.1 349.5h38.7M404.3 351.5h54M378.2 352.5h56.8M369 359.5h72.8" fill="none" stroke="#ffffff" stroke-width="1.05"/>
<path d="M288.8 232.5h63M354.2 233.5h36.1M239.3 235.5h85.2M239.3 238.5h83.1M322.4 238.5h62.4M270.5 239.5h86.1M302.5 241.5h33.8M318.3 245.5h86.9M413.5 246.5h29.4M442.8 246.5h26M261 247.5h23.6M456.9 247.5h11.9M239.3 248.5h53.9" fill="none" stroke="#f0e030" stroke-width="1.05"/>
<path d="M441.9 232.5h19.5M390.2 233.5h35.3M324.5 235.5h40.9M365.3 235.5h17.4M335.9 243.5h73.6M399 244.5h19.9M263.6 249.5h22" fill="none" stroke="#b8e050" stroke-width="1.05"/>
<path d="M432.5 239.5h36.3" fill="none" stroke="#80e050" stroke-width="1.05"/>
<path d="M239.3 250.5h34.6M273.9 250.5h71M376 250.5h44.9M466.8 252.5h2M239.3 253.5h20.3M295.6 253.5h37.8M409.5 253.5h17.2M239.3 254.5h64M352.6 254.5h41.4M455.8 254.5h13M239.3 255.5h57.4M239.3 257.5h62.7M239.3 258.5h46.4M285.7 258.5h37.2M415.9 259.5h47.1M239.3 260.5h18M280.2 260.5h87M304.1 261.5h45.1M435 261.5h33.8M410.6 263.5h37.7M462.2 264.5h6.6M239.3 267.5h46.5M285.8 267.5h46.2M239.3 268.5h45.9M331.6 271.5h17.4M354.9 273.5h23.1M377.9 273.5h27.5M239.3 275.5h23.3M262.6 275.5h20.2M363.3 276.5h90.6M239.3 277.5h38.7M444.9 279.5h23.9M383.5 280.5h56.3M402.9 281.5h55.6M376.3 282.5h65.9M435.1 284.5h33.7M375.5 285.5h30.7M239.3 286.5h62.9M336.1 286.5h90M404.3 287.5h22.2M415.7 288.5h53.1M458.3 289.5h10.5M278.4 291.5h89.6M239.3 293.5h19.8" fill="none" stroke="#f0a830" stroke-width="1.05"/>
<path d="M345 250.5h31M420.9 250.5h47.9M426.7 253.5h25.4M303.3 254.5h49.3M296.7 255.5h71.8M458.6 255.5h10.2M239.3 256.5h88.2M327.5 256.5h49.7M302 257.5h80.1M322.9 258.5h60M382.9 258.5h75.1M458 258.5h10.8M367.2 260.5h78.8M405.2 261.5h29.8M239.3 262.5h40M448.4 263.5h20.4M300.7 264.5h72.2M372.9 264.5h89.3M345.1 266.5h86.7M355.3 268.5h72.2M427.6 268.5h41.2M239.3 269.5h39.4M371.9 269.5h76.3M361.6 270.5h87.4M239.3 271.5h92.3M409.1 271.5h29.7" fill="none" stroke="#f6c848" stroke-width="1.05"/>
<path d="M314.5 251.5h86.7M357.1 252.5h73.2M259.6 253.5h36M401.3 257.5h17.6M332.9 259.5h83M349.3 261.5h55.9M297.2 263.5h44M239.3 266.5h74.1M313.4 266.5h31.7M431.8 266.5h37M285.2 268.5h70.1M448.2 269.5h20M312.5 270.5h49" fill="none" stroke="#e0ec50" stroke-width="1.05"/>
<path d="M239.3 252.5h50.4M430.4 252.5h36.4M368.5 255.5h90.1M257.3 260.5h22.9M279.3 262.5h53.1M459.5 262.5h9.3M239.3 264.5h61.4M239.3 265.5h75.3M399.2 267.5h69.6M343.5 269.5h28.4M449 270.5h19.8M349.1 271.5h60M438.8 271.5h30" fill="none" stroke="#8ee868" stroke-width="1.05"/>
<path d="M394 254.5h61.8M418.9 257.5h49.9M239.3 259.5h93.6M446 260.5h22.8M239.3 261.5h64.8M239.3 263.5h57.9M406.1 265.5h62.7" fill="none" stroke="#c0f0a0" stroke-width="1.05"/>
<path d="M377.2 256.5h76.4M379.3 262.5h80.2M314.6 265.5h91.6M332 267.5h67.2M278.7 269.5h64.8M468.2 269.5h0.6" fill="none" stroke="#78ece0" stroke-width="1.05"/>
<path d="M239.3 272.5h70.2M239.3 273.5h33.3M432.6 273.5h23.4M239.3 274.5h79.3M327.7 275.5h69.4M263.7 276.5h45M453.9 276.5h14.9M450.8 277.5h18M458 278.5h10.8M311.5 281.5h91.4M289.1 282.5h87.2M311.3 287.5h93M239.3 289.5h53.5M239.3 294.5h81.3M320.6 294.5h46.1M352.1 295.5h74.2M386.1 296.5h72.7M372.8 297.5h51.8M239.3 298.5h20.5M464.6 299.5h4.2M399.7 302.5h65.4M315.9 303.5h23.2M339.1 303.5h82.5M440.7 303.5h28.1M403.8 308.5h45.5M373.4 310.5h75.7M239.3 312.5h23.4M341.9 312.5h41.9M239.3 315.5h83.2M239.3 316.5h71.9" fill="none" stroke="#a8f098" stroke-width="1.05"/>
<path d="M309.5 272.5h19.9M272.6 273.5h82.3M282.7 275.5h45M397.1 275.5h21.7M438.9 278.5h19M260.2 279.5h22.7M331.9 280.5h51.7M239.3 281.5h50.4M267.8 285.5h20.9M426.1 286.5h29.8M426.5 287.5h42.3M440.3 289.5h18.1M418.9 291.5h49.9M239.3 292.5h89M387.4 292.5h26" fill="none" stroke="#e0f050" stroke-width="1.05"/>
<path d="M411.2 272.5h40.5M456 273.5h12.8M458.5 281.5h10.3M442.1 282.5h16.9M441.1 283.5h26.9M455.9 286.5h12.9M239.3 287.5h44.8M292.8 289.5h15.7M357 289.5h63.8M368 291.5h50.9M328.3 292.5h59.1M393.9 293.5h37.1" fill="none" stroke="#60e8e0" stroke-width="1.05"/>
<path d="M405.5 273.5h27.2M239.3 276.5h24.4M239.3 278.5h78.1M356.1 278.5h82.8M282.9 279.5h93.8M239.3 282.5h49.8M239.3 285.5h28.5M284.1 287.5h27.2M239.3 288.5h44.5M345.3 288.5h34.3M379.6 288.5h36M308.4 289.5h48.5M420.8 289.5h19.5M239.3 290.5h38.8M345.5 290.5h44.6M413.4 292.5h54.5M468 292.5h0.8M401.4 294.5h67.4" fill="none" stroke="#60e060" stroke-width="1.05"/>
<path d="M418.8 275.5h50M278 277.5h53.3M405.3 277.5h45.6M317.4 278.5h38.7M239.3 279.5h20.9M422.5 279.5h22.3M239.3 280.5h76.3M315.6 280.5h16.3M289.7 281.5h21.8M239.3 284.5h94.5M333.8 284.5h48.7M382.5 284.5h52.6M239.3 291.5h39.1M259.1 293.5h42.4M301.5 293.5h92.4M430.9 293.5h37.9M366.7 294.5h34.7" fill="none" stroke="#f0d040" stroke-width="1.05"/>
<path d="M239.3 295.5h86.8M458.8 296.5h10M342.3 298.5h75.4M326.5 299.5h27.4M463.3 300.5h5.5M313.5 302.5h86.2M239.3 303.5h76.6M239.3 304.5h72.9M312.2 304.5h47.7M239.3 305.5h39.1M272.4 306.5h60.2M467.8 307.5h1M298.4 308.5h49.2M449.3 308.5h19.5M449.1 310.5h19.7M239.3 313.5h37.6M380 314.5h88.8M371.2 315.5h69.1M379.1 317.5h24.6" fill="none" stroke="#50e4e8" stroke-width="1.05"/>
<path d="M326.1 295.5h26M426.2 295.5h15.8M239.3 296.5h84.7M324 296.5h62.1M239.3 297.5h90.9M350.3 297.5h22.4M259.8 298.5h82.5M417.7 298.5h38.9M390 299.5h31.4M421.4 299.5h43.2M239.3 300.5h67M239.3 302.5h38.5M465 302.5h3.8M359.9 304.5h22.7M454.9 304.5h13.9M239.3 306.5h33.1M445.9 306.5h22.9M239.3 307.5h76.5M315.8 307.5h58M319.2 309.5h26.2M333.1 311.5h25.7M276.9 313.5h85.2M410.6 313.5h58.2M306.7 314.5h73.3M311.2 316.5h78.7M389.9 316.5h54.6M239.3 317.5h82" fill="none" stroke="#58e058" stroke-width="1.05"/>
<path d="M442 295.5h26.8M456.6 298.5h12.2M239.3 299.5h87.2M306.3 300.5h26.1M332.5 300.5h70M239.3 301.5h54.5M293.8 301.5h87M380.8 301.5h68M277.8 302.5h35.7M382.6 304.5h72.3M368.9 305.5h86.7M455.6 305.5h13.2M332.6 306.5h23.6M373.8 307.5h94M239.3 309.5h79.9M345.3 309.5h90.1M239.3 310.5h60.9M337.9 310.5h35.5M358.8 311.5h22.2M262.7 312.5h35.2M383.8 312.5h66.1M362 313.5h48.6M440.3 315.5h28.5M321.3 317.5h57.8" fill="none" stroke="#e0f048" stroke-width="1.05"/>
<path d="M330.2 297.5h20.1M424.6 297.5h44.2M278.4 305.5h90.5M300.2 310.5h37.7M239.3 311.5h70.6M445.5 311.5h23.3M297.9 312.5h19.2M317.1 312.5h24.8M239.3 314.5h67.4M444.5 316.5h24.3" fill="none" stroke="#f0c050" stroke-width="1.05"/>
<path d="M353.9 299.5h36.1M402.4 300.5h60.9M421.7 303.5h19M356.2 306.5h89.7M239.3 308.5h59.1M347.6 308.5h56.2M435.4 309.5h33.4M309.9 311.5h23.2M449.9 312.5h18.9" fill="none" stroke="#f8e8a0" stroke-width="1.05"/>
<path d="M273.4 318.5h67.1M239.3 319.5h74.5M363.6 319.5h73.8M239.3 321.5h51.6M290.9 321.5h79.2M259.6 323.5h23M304.7 323.5h15.3M309.4 324.5h47.2M393.6 325.5h75.2M339.2 327.5h82.2M277.3 328.5h26.9M286 329.5h75.6M361.6 329.5h79.3M297.3 330.5h49.1M334.4 331.5h73.4M239.3 333.5h56.1M345.8 333.5h37.3M395 334.5h69.5M389.3 335.5h79.5M239.3 336.5h42.7M415.8 336.5h53M338.5 337.5h39.5M441.3 337.5h27.5M239.3 339.5h17.7M285 339.5h70.5M239.3 340.5h29.2M460.5 341.5h8.3M239.3 342.5h89.6M309.4 344.5h18.6" fill="none" stroke="#68e068" stroke-width="1.05"/>
<path d="M340.4 318.5h66.6M313.8 319.5h49.8M289.9 320.5h19.9M239.3 323.5h20.3M443.2 326.5h25.6M386.6 328.5h81.7M346.4 330.5h80.8M448.5 331.5h20.3M403.7 333.5h34.5M438.2 333.5h22.3M460.5 333.5h8.3M239.3 334.5h22.7M331.8 335.5h19.7M351.4 335.5h37.8M257 339.5h27.9M408.9 341.5h51.6M414.3 342.5h51.4M239.3 343.5h67.7M417.3 343.5h51.5" fill="none" stroke="#80cdf8" stroke-width="1.05"/>
<path d="M407 318.5h36.9M309.8 320.5h82.3M392 320.5h19.5M411.6 320.5h57.2M370.2 321.5h56.7M468 322.5h0.8M282.6 323.5h22.1M359 323.5h46.1M239.3 324.5h70.1M356.6 324.5h47.7M392.7 326.5h50.5M444 327.5h24.8M239.3 328.5h38M304.3 328.5h23.4M468.4 328.5h0.4M239.3 329.5h27M239.3 330.5h58M271.9 331.5h62.6M239.3 332.5h69.2M308.5 332.5h56.5M431.3 332.5h37.5M295.4 333.5h50.4M262 334.5h90.6M352.6 334.5h42.4M239.3 337.5h49.1M239.3 338.5h73.7M336.7 338.5h87.4M239.3 341.5h94.8M364.9 344.5h18.6" fill="none" stroke="#48e4f0" stroke-width="1.05"/>
<path d="M443.9 318.5h24.9M368.3 322.5h83.1M239.3 326.5h67.8M308.9 327.5h30.4M421.4 327.5h22.6M266.3 329.5h19.7M440.8 329.5h28M465.8 330.5h3M239.3 331.5h32.6M383.1 333.5h20.7M282 336.5h82.7M364.7 336.5h51.1M378 337.5h63.3M424.1 338.5h21.5M445.7 338.5h23.1M268.5 340.5h40.6M328.9 342.5h35.4M364.3 342.5h50M307 343.5h54.9M239.3 344.5h42.1M328 344.5h36.9" fill="none" stroke="#e8ec60" stroke-width="1.05"/>
<path d="M451.4 322.5h16.6M405.1 323.5h63.7M455.8 324.5h13M308.9 325.5h84.7M407.8 331.5h40.7M365 332.5h66.3M464.5 334.5h4.3M280.5 335.5h51.2M288.4 337.5h50.1M355.5 339.5h83.3M438.7 339.5h30.1M309.1 340.5h23.9M468 340.5h0.8M362 343.5h55.3M281.4 344.5h28" fill="none" stroke="#a0f0d0" stroke-width="1.05"/>
<path d="M327.6 328.5h59M377.6 340.5h90.4" fill="none" stroke="#f0d070" stroke-width="1.05"/>
<path d="M239.3 345.5h32.7M454.3 346.5h14.5M411.5 347.5h57.3M239.3 348.5h45.7M322.6 348.5h35.8M383 348.5h34.8M417.8 348.5h51M260.6 352.5h52.3M335.5 352.5h42.7M435 352.5h33.8M461.9 353.5h6.9M431.6 354.5h27.9M380.7 355.5h86.6M467.3 355.5h1.5M361.5 356.5h53.2M314.6 359.5h54.4" fill="none" stroke="#80c8f8" stroke-width="1.05"/>
<path d="M272 345.5h17.6M319.9 345.5h39.9M359.9 345.5h20.2M327.9 346.5h77.6M405.5 346.5h28.5M434.1 346.5h20.2M239.3 347.5h15.8M285 348.5h37.6M358.4 348.5h24.6M321.3 349.5h62.4M383.6 349.5h46.4M239.3 350.5h78.2M317.5 350.5h27M344.5 350.5h61.8M406.3 350.5h15.4M421.7 350.5h33.3M239.3 352.5h21.3M302.7 353.5h40M395.3 353.5h66.6M239.3 354.5h30.6M269.9 354.5h89.3M359.2 354.5h54.9M414.1 354.5h17.5M459.5 354.5h9.3M282.4 355.5h65M347.4 355.5h33.3M239.3 356.5h53.8M239.3 357.5h64M433.5 358.5h35.3M239.3 359.5h75.3" fill="none" stroke="#48e0f0" stroke-width="1.05"/>
<path d="M289.6 345.5h30.3M276.8 351.5h31.5M414.7 356.5h54.1M441.8 359.5h27" fill="none" stroke="#70e090" stroke-width="1.05"/>
<path d="M380.1 345.5h88.7M338.1 347.5h73.4M239.3 349.5h82M455 350.5h13.8M239.3 351.5h37.5M308.4 351.5h24.5M332.9 351.5h71.4M458.2 351.5h10.6M312.9 352.5h22.6M239.3 353.5h63.4M342.7 353.5h52.6M239.3 355.5h43.1M293.1 356.5h68.4M303.3 357.5h55.4M358.7 357.5h41.5M400.2 357.5h44.4M444.6 357.5h24.2M239.3 358.5h89M328.3 358.5h71.8M400.1 358.5h33.4" fill="none" stroke="#4088f0" stroke-width="1.05"/>
<rect x="240" y="361.7" width="229" height="5.3" fill="#3058e8"/>
<path d="M240 363.2h229M240 365.3h229" stroke="#6f9af5" stroke-width="0.6" fill="none"/>
<rect x="240" y="368" width="229" height="2.2" fill="#c4c4ee"/>
<rect x="240" y="371" width="229" height="2" fill="#c8c8f0"/>
<path d="M341.4 254h3.5M314.1 269.7h3.4M259.3 276.4h2.7M363.6 277.7h3.2M273.6 245.6h2.6M400 295.6h3M429.7 200.8h2.2M449.2 294.3h2.9M316.4 275.6h2.4M392.9 261.6h3.2M403.6 296.9h2.3M353 263.7h2.5M251.2 295.7h1.9M354.4 198.5h1.6M452.7 223.4h1.9M425.9 219.6h2.7M370.2 289h2.3M315.3 221.5h2M240 206.7h1.5M312 275.5h3.4M321.1 220.5h1.9M384 244.7h1.5M359.9 222.5h1.5M419.8 205.2h2.2M415.4 251.5h3.2M312.6 294.3h1.3M445 239h1.2M299.4 298.8h2.8M408.8 280h1.2M310.3 243.4h3.3M447.9 209.8h3.5M366.9 226.3h1.4M337.7 249.2h2.2M311.1 294.5h2.3M310.5 276.4h1.8M336.8 205h1.7M468.3 259.9h2.4M394.2 265.3h2.4M324 209.6h1.3M267.7 237h1.2M394.5 229.7h1.7M311.8 246.2h1.7M435.2 245.2h1.4M259.5 288.4h2.5M306.7 269.6h1.3M443.6 293.3h2.7M251.6 239.1h3.1M375.9 216.2h1.7M254.6 249.3h1.6M342 288.9h3.3M352.6 277.1h1.5M457 285.7h2.3M442.9 225.5h3.5M313.9 292h3.1M454 271.1h1.4M304 263.5h3.3M395.9 198.1h2M319 212.1h1.7M358.2 233.5h1.8M334.4 294.4h2.6M412.2 292.9h1.3M441.6 204.1h1.7M409.3 273.8h2.6M349 270.5h2.2M284.5 217.3h1.5M248.4 294.9h3.4M319.8 237.7h1.8M418.9 246.2h1.6M442.5 292.4h1.3M345.1 217.4h2.7M322.1 225.6h1.9M379.1 247.3h2.3M395.9 244.2h3.4M340.5 277.9h3.3M382.4 256.5h3M403 214.5h2.2M275.9 196.2h2.8M315.3 221h1.3M245.2 265.2h2M339.9 265.6h3.3M400.5 217.2h3.5M282.1 255.6h2.7M305.8 288.2h2.6M402.6 208.7h3.1M305.8 259.5h2.9M313.8 222.1h2M464 263.7h2.3M368.7 263.5h1.8M257.4 205.6h2.5M377.1 297.7h2.6M435.3 298.6h2.3M336.6 243.9h2.1M414.1 255h1.5M458.8 249.8h2.9M365.4 256.4h2.5M266.3 207.9h2.9M320 207.7h3.1M411.3 275h2.1M270.2 274.5h1.7M393 267.8h1.8M240.5 256.6h3M374.7 298.3h1.7M407.4 240.1h2.5M309.2 218.4h2.5M379.1 290.4h2.6M354.4 263h2.6M333.4 222.3h2.8M328.6 198h1.6M322.2 266.8h2.7M352.3 280.5h2M320.4 273.6h2.8M337.5 288.3h1.3M362.8 285h3.2M284.2 279.6h2.4M454.2 228.8h2.7M387 299h2M329.2 207.2h2.8M256.1 284h1.5M283.7 294.7h2.3M412.8 230.6h1.8M324.4 298.2h1.6M447.2 287.6h2.8M300.9 271.4h3.3M375.8 217.3h2.6M459 256.6h1.5M286.4 260.8h1.3M240.3 233.7h1.8M353 201.8h2.5M394.7 227.6h2.5M360.7 277.7h2.5M386.1 253.8h3.1M262.1 206.1h3.2M431 194.8h3.3M379.5 284.7h2.8M326.1 206.1h3M402.6 243.8h1.8M323.4 293.2h2.3M288.1 298.6h3.5M280.5 214.9h2.9M328.6 244.2h2.8M302.6 257h1.7M290.7 251.8h2.2M444.8 209.2h3.3M300 230.3h1.4M312.4 298h2M431.4 297.5h2.8M282.2 239.7h1.6M297.2 229.5h1.6M395.7 249.4h1.9M298.3 209.1h1.5M340.5 201.9h2.4M298.5 275.9h1.8M436 294.2h3.3M292.1 292.5h2.3M442.6 243.2h2.4M299.2 274.3h2M442.4 269h2.2M247.1 222.5h2.2M324.8 255.8h1.2M347.1 288.6h3.4M397.7 266.8h2.6M468.8 277.8h2.3M353.5 293.6h2.5M377 226.6h2.7M351.9 294h3.5M468.1 294.8h1.3M256.7 229.9h3.1M367.8 221.2h1.4M297.3 207.5h1.5M410.6 214.5h1.6M382 207.8h3.1M388.9 287h2.9M407.3 222.3h2.2M327 235.6h3.3M339.9 278.7h2.7M258.9 216.3h2.5M420.8 218.7h1.8M326.3 242.7h2.2M451.8 258.5h1.8M318.8 247.8h1.6M329.8 200.9h2.7M438.6 289.3h2.6M328.1 253.4h2.5M280.4 251.3h2.3M285.2 240.9h3.1M386.9 228.9h1.7M384.3 252.6h1.9M347.9 237.1h2.6M441.1 233.5h2.4M368.7 264.7h1.8M296.5 291.8h1.5M396 221.6h2.3M343.4 219.3h1.6M459.2 198.1h1.5M409.2 233.4h1.6M417.8 298h1.7M401.9 236h3.5M376.7 288.9h2.7M270.1 240.8h2.8M275 203.3h3.5M451.5 263h1.3M400.5 298.8h3M403.8 240.6h2.7M452.1 246.9h1.4M273.3 294.9h2.8M454.2 209.7h1.4M396.4 239.4h2.3M293.3 274.9h3M406.2 239.6h2.3M330.6 243.3h1.9M347.4 296h3M271 265.1h3.1M319 288.2h3.4M256.2 260.3h2.1M346.8 252.1h3.2M384.5 288.2h1.8M422.5 235.5h1.6M423.9 255.2h1.7M444.6 246.1h2.8M465.7 228.6h2.5M365.1 224.2h2.4M461.2 267.9h1.8M396.5 259.2h2M393.7 233.8h3M328.8 281.4h1.9M279.3 228.9h1.5M440.4 299.5h2.2M295 287.5h3.2M295.9 226.4h2.3M270.3 216.3h2.1M267.4 209.3h2.6M308.9 291h3.4M393.4 223.1h2.9M317.6 286.2h2.2M398.4 273.6h2.8M412.4 230.3h1.5M324.4 295.6h1.3M304.6 226.8h2.2M439.4 212.2h1.4M244.1 230h2.9M343.7 262.5h2.4M322.5 237.2h1.3M458 271.7h1.4M286.5 277h2.4M411.5 273.7h1.5M428.4 215.3h1.5M411.1 280.4h1.9M328.3 271.8h1.9M341.9 299.2h1.5M456 288h3.5M296.2 215h2.2M279.2 292h2.5M432.8 246.1h2.3M458.9 207.3h1.7M436.1 256.4h3M467.9 275.8h2.6M412.1 250.4h1.7M314.5 292h2.4M247.3 262h3.5M383.4 246.2h2.2M384.4 259.2h2.3M446.9 288h3M406.1 270.2h1.7M352.3 222.3h1.7M457.6 218.5h3.1M431 236.9h1.3M280.6 262.4h2.8M321.3 257.5h1.6M390.6 276.9h3M368.9 254.8h1.2M301 237.1h1.4M256.8 295.5h2.8M368.8 267.1h3.2M385.4 239.3h2.1M462.2 295.1h1.5M427.4 262.1h2M399 223.1h2.9M368 256h1.3M446.8 295.3h3M307.2 270.6h1.5M365.2 230.6h2.3M306.3 201.5h2.2M294.4 212.6h2M268.5 196.3h3.4M252.7 288.7h2.2M267.6 239.5h2.4M252.7 251.5h1.2M308.4 269.4h3.1M280.8 237.1h3.4M312.2 206.5h1.8M438.2 230.5h2.7M454.7 259.9h1.7M350.1 228.5h2.3M380.9 297.5h2.8M356.5 280h2.4M284.3 265h1.8M288.6 235.2h2.3M247.4 232.2h3.4M356.8 233h2.3M399.9 247.3h2.1M372.9 223.2h2.8M337.1 268.8h2M386.2 214.8h2.3M352.7 195.6h1.5M345.4 275.1h3.1M433.3 279.4h3.4M284.8 210h1.5M421.5 214.1h1.9M271.7 290.3h1.7M293.9 257h2.8M248.8 255.5h2.4M366.9 248.6h3M428.4 285.3h2M249.6 243.9h1.3M385.8 244.9h2.9M430.8 271.6h2.8M316.2 271h2.7M290.2 286.1h2.3M361.6 214.9h3.1M348.5 272.7h3.1M358.9 256h2.3M294.4 278.7h3.3M248 197.5h2.3M258.3 240.5h2M295.2 276.2h2.5M451.1 214.6h2.1M381.3 275.9h2.2M282.6 234.9h2.5M461.5 263h3.1M430.9 239.4h2.4M430.9 270.7h2.1M283.2 271.6h1.9M300.6 220.6h2.8M388 293.3h2.6M350.7 287.7h1.5M374.9 298.7h2M274.8 206.1h1.3M407.7 237.7h3.1M431.3 196.8h1.9M300.4 222h1.3M298.4 230h2.2M361.6 298.4h1.4M270.7 289.7h1.9M363.4 226.3h3.3M453.9 254.4h1.4M325.1 268.6h2.5M304.2 236.1h1.3M332.4 281.4h2.1M346.8 211.8h2.8M335.5 234.8h3M308 202.2h2.7M409 199.6h2M442.9 247.9h2.1M269.8 224.6h2.6M449.5 264.2h3.4M333.3 201.3h2M323.9 200h1.4M448.6 288.9h1.5M258.8 297.9h1.6M309.1 217.9h1.7M247.1 243h3M256.3 246.1h1.5M420.4 289.9h3.2M362.2 209h2.8M256 276.2h1.9M444.3 224.2h2.9M353.4 219.4h2.3M338.6 210.5h2.5M361.9 268.2h2M380.8 215h2.4M294.9 277.3h1.6M306.6 201.4h1.9M363.9 218.2h1.5M444.6 226.9h1.7M331.4 283.2h2.9M446.7 251.8h2M354.8 200.2h2.8M432.1 291.1h3.1M388.2 279.2h1.9M368.7 211.3h3.4M357.3 212.7h3.5M382 216.5h3.1M383.4 260h3.2M312.3 223.4h2.5M286.6 268.1h2.3M285.9 207.2h1.6M371.9 290.9h3M434.3 254.1h3M315.7 233h3.3M299.2 260.1h2.5M251.9 254h3M443.6 238.4h3.3M248.7 290.1h2.8M425.6 241.5h2.6M429 217.7h1.6M412.5 286.9h1.7M365.2 247.8h1.9M433.1 224h3M334.4 209.5h3.4M273.8 204.8h1.3M320.3 196.8h1.6M455.5 221h2.8M288.9 195.4h1.2M267.9 295.1h2.3M297.2 199h2.7M312.4 213.1h2.2M402.9 230.2h2.5M283.1 253.3h1.3M451.3 292.4h2.5M348.5 236.1h2.9M372.5 269.2h2.2M331.6 270.6h1.6M318.3 219.5h1.7M437.7 227.1h2.9M251.1 292h2.3M410.4 205.3h2.6M425.9 224.6h1.4M327.7 275.5h3M254.7 228.4h3.3M306.1 203.1h3.2M427.7 241.2h2.8M412 282.7h1.6M407.2 291.9h3M359.5 235.8h3.5M467.5 279.3h2.4M444.5 286.7h2.4M270.2 258.9h1.5M316.7 254.3h2.4M387.5 281h3.4M311.1 295.1h1.9M319.8 274.1h3.4M356.1 278.4h3.1M312.1 259.4h3.4M244.7 207.2h3.2M369.6 238.5h3M341.6 208.7h2M414.2 262h2.3M242.6 299.6h1.4M303.7 277.7h3.4M397.5 234.5h2.9M393 255.3h3M366.6 251h1.8M418 205.3h1.4M384.1 198.9h3.2M284.1 243.5h1.8M350.4 259.3h1.7M364.5 297.1h1.5M290 214.7h1.4M242.8 295.6h3.4M249 282.3h2.5M287.5 287.6h1.5M386.6 265.3h2.8M294.2 209.8h2.7M307.3 258.2h2.9M247.4 270.9h3.5M332.3 254.9h2M441.5 217.6h1.4M355.1 241.1h2.5M286.7 292.4h2.4M329.1 273.2h1.3M450.9 282.4h1.8M343.8 198.1h3M462.9 257.2h3.5M348.1 286h3.1M452 242.7h2.4M248 294.8h1.4M373.1 257.9h1.6M320.2 225.8h1.2M331.6 234.4h2.9M400.2 294.5h3.2M298.7 258.8h2.8M420.6 208.9h2M380.6 227.4h3.3M334.9 269h1.4M445.6 297.1h3.4M318.1 282.3h3.5M264.5 201.9h2.7M466.3 197.2h3.1M391.2 244.4h1.5M356.1 246.8h1.7M446.1 272.4h1.6M382.3 257.4h3.4M464.7 288.3h1.3M336.4 210.3h2.9M258.9 281.8h2.6M387.1 294.2h3.2M407.6 260.6h2.5M358.6 197.1h1.7M397.7 238h2.2M433.7 234.9h2.9M424.1 282.2h1.7M379.1 243.5h2.6M259.8 214.1h1.8M419.6 277h2.1M378.7 240.7h2.4M301.1 230.4h3.4M442.6 206.9h1.5M438.1 241h2.7M378.1 258.1h3.3M275.2 285.2h1.8M257.4 225.5h2.4M423.8 255.5h3.4M283.3 234.2h2.5M375.3 267.8h2.4M263.1 276.9h3M256.3 280.2h1.2M396.7 260h1.9M260.5 221.3h2.6M362.2 280.2h1.6M382.1 226.2h1.3M282.9 205.7h1.6M248.7 297.4h2M413.5 238.7h2.4M297.6 294.1h1.7M459.8 276.7h3.2M262.3 298.6h2.7M372.7 254.1h2.2M458.3 298h3.4M272.4 250.2h2.8M282 288.4h2.9M267.6 225.4h2.8M441.9 299.8h1.8M431.5 256.1h2M295 205.2h1.3M338.5 206.8h1.7M313.7 208.4h1.7M298.7 297.4h2.2M381.4 251.3h3.4M429.2 292.2h3.2M409 286.9h2M379.2 229.1h3.3M301.3 300h1.7M317.8 272.7h2.5M289.1 207.5h3.2M287.5 248.1h3.1M351.2 244.5h1.6M454.3 257.8h2.7M330.1 269.4h2.1M280.9 231.8h3M437.8 248.5h2.7M454 262.9h3.4M297.9 286.5h2.9M370.7 256.8h1.6M243.8 197.3h3.2M331.2 257.8h2.2M441.2 272.1h2.1M386.2 216.7h3.4M276.7 290.6h2.4M273.8 298.3h1.7M395.3 221.5h1.5M421.2 288.4h3.3M394.1 262.1h1.6M468.6 228.7h2.7M245.9 227.5h2.4M348.5 237.8h2.1M244.4 262.5h2M265.8 233h2.7M410.3 238.1h1.5M383.4 257.6h2.3M462.1 232.8h2.4M246.9 208.1h1.6M282.8 212.5h1.4M450.5 256.3h2.3M368.7 224h3.2M408.5 239.2h1.3M240.1 197.7h2.9M247.1 241.7h2.4M324.9 225.5h3.4M458.5 274h2.4M458 268.4h1.7M272.1 209.5h1.4M329.2 258.4h1.7M258.6 229.7h2.3M441.4 288.5h3.1M299.6 281.3h1.8M374 250.7h1.7M363.9 221.9h3M293.8 276.9h1.6M242 240.5h3.2M385.4 220.8h2.4M315.8 264.2h1.9M278.4 299.9h1.3M271.1 227.8h2M366.9 246.5h1.6M430 269.2h1.6M278.7 205.9h2.4M385.7 270.3h1.7M438.2 289.6h2.3M267.4 212.4h2.9M255.2 260.2h2.8M244.6 209.6h1.8M340.3 284.2h3M329.1 195.3h2.4M284.7 224.7h3.3M305.9 235.8h2.7M453.5 200.5h2.6M391.6 207.4h1.4M316.3 229.9h2.8M461.8 264.2h2.2M468.3 293h2.2M347.7 248.9h1.4M387.5 269.5h2.3M373.8 290.3h2.6M397.8 287.6h2.9M344.8 295.4h3.4M258.4 300h1.6M441.4 262.1h3M319.3 224.4h1.6M267.8 206.1h1.6M427.8 251h3.2M465.9 240.6h1.6M445.3 206h2.4M433.5 207.2h1.8M389.2 204.3h3.2M411.2 252.8h3M271.9 283.8h2.4M327.8 280.3h2.3M249.9 268h1.3M368.8 217.1h2.1M336 268h2.7M320.6 218.3h3M254.9 255.9h2.9M383.9 196.8h1.4M387.1 277.4h2.7M465.5 268.2h2.2M459.2 219.2h1.5M329.4 197h2.5M362.2 214h2.6M347.5 268.1h3M423 266.5h1.4M371.5 264.7h1.6M325.1 249.2h1.8M258.9 224.3h2.2M417.1 298.5h3.1M444.4 298.2h2.4M381.7 197.1h2.9M431.5 230.6h2.6M262 293.4h2.2M345 217.5h3.2M458.3 237.7h2.4M305.7 268.5h2.6M433.8 195.9h2.4M461.9 196.6h2.6M326.1 206.3h1.9M460.5 216.7h2.3M438.4 205.6h1.3M378.1 260.1h1.3M431.9 275.4h2.6M295.6 291.9h1.7M468.8 252.4h3.3M364.9 258.2h3.4M340.2 227.2h3.4M467.7 207.5h3.2M414.3 216.3h1.7M253.3 282.7h1.4M431.6 278.3h3.5M265.7 279.9h1.4M265.4 283.7h1.5M408.7 298.6h2.3M336.7 288.9h2.7M465.4 267.3h2.2M250.4 288.6h2.9M271.8 267.2h1.8M340.7 210.8h1.4M347.1 269.7h2.8M434.8 290.7h2.9M297.2 276.1h2.9M266.5 195.6h3.3M279.4 286.3h3.4M336.1 250h1.4M257.6 284.2h2.6M299.3 214.3h1.4M415.3 222.8h1.3M428.6 227.3h1.6M369.5 232.9h2.4M345 251.4h1.8M354.9 295.3h1.7M335.9 243h2.2M318.4 260.6h3.3M274.4 241.4h3.5M240.2 267.5h2M355.7 271h1.8M255.2 261.8h3.5M344.2 293.2h2.4M395.5 264.1h3M389 266.7h2.8M297.7 287.6h2.6M354.9 260.9h2M295 290.9h1.7M321.9 256.7h2.3M261.1 222.9h3M271.5 245h1.5M257.5 297.7h2.2M347.1 201.8h1.6M358.1 292.6h3.4M331.4 248.3h1.7M431 208.7h1.9M283.9 272.4h3.2M340.9 229h3.3M262.7 275.1h1.9M447.9 221.2h3.2M435 227.2h1.7M384.9 202h2.5M310.6 264.7h1.4M397.8 222.3h2.5M405.4 211.7h1.9M403.6 267h3.3M246.7 235.3h2M442.5 246.9h2M276.5 241.1h2M244.8 260.7h3.2M333.1 241.8h3.2M458.7 295.8h2.9M282 232.4h2M423.6 277.3h3.1M275.2 218h3.5M317.9 257h2.2M404.3 194.5h3.1M448.2 267.6h2M398.7 216.4h3M423 256.9h2.9M398.7 275.5h3.3M413.9 290.5h2.8M259.1 215.2h3.3M260.3 286h2.9M272.1 288h2.8M289.6 230.4h2.8M383 255.8h3.2M312.9 284.8h3.4M434.8 240.3h1.8M354.6 236.1h2.7M260.2 225.1h1.4M268.1 226.9h2.4M421.2 233.7h3.2M353.8 295.5h2M314.2 211.1h3M375.6 294.6h2.3M415.1 211.4h3.3M256.8 214.1h3.5M256.2 295.6h3.5M254.7 238.5h3M462.1 251.3h3.3M337.2 273.1h1.4M390.3 216.3h2.9M304.7 196.9h2.2M292.8 247.7h1.2M339.1 217.3h2M379.8 272.4h2.3M337.9 224.4h2.6M409.7 219.4h1.5M401.1 222.3h2.9M367.1 203.8h2M453.5 282.4h2.7M468.2 299.2h3M439.9 247h3.3M305.5 294h3.5M427.6 295.8h2.8M395.7 205.8h2.9M260 289.4h3.1M440.6 272.4h1.8M377.8 245.9h3.2M376.8 237.5h2.9M418.5 261.3h2.1M392.5 254.5h1.4M302.1 209.5h2.4M265.6 275h2.6M271.4 268.5h3M247.5 271.8h2.3M445.8 291.2h2.6M422.3 213.8h2.9M400.2 273.3h2.2M293.8 234.3h1.6M391.4 265.9h2.6M420.3 224.4h2.6M422.6 260.8h1.6M305.4 226.9h1.9M396.7 234h1.7M457.2 255.5h3.3M338.6 206.5h1.4M448.8 196.8h1.4M376.8 237.4h1.3M318 256.3h1.6M325.8 220h2.4M443.4 256.4h2.9M427 195.4h1.4M427.6 246.1h2.2M437.7 220.8h2.3M423.1 269.1h1.4M299.7 285.3h2.6M330.7 289.1h2.4M441.7 222.9h2.6M326.7 194.4h2.7M357.9 228.5h1.9M335.3 261.1h3.4M406.6 294.1h1.9M245.9 210.4h3.1M263 274.5h3.5M420.2 245.9h1.7M432.4 214.2h1.2M349.6 291.8h3.5M357.6 198.3h2.3M340.3 263.4h2.1M333.1 284.6h3M297.3 251.8h1.3M355.1 195.4h2.7M328.9 292.8h2.4M278.1 274.2h2.1M367.3 271h2.1M361 199.2h1.9M256.6 246.7h2.3M288.4 232.3h1.2M457.2 285.9h1.9M466.9 271.4h2.4M310.1 268.4h3.1M420.7 241.7h3.2M289.8 278h3.5M249.4 211.6h2.8M394.6 208.9h1.2M452.6 298.9h3.3M254.4 273.1h2.2M324.4 225.9h2.8M331.1 211.6h1.3M251.3 238.7h2.9M371.6 296.2h3.2M444.8 251.1h2.4M398.9 261.2h1.6M365.3 242.4h2.3M351.9 247.8h2.6M311.6 210.3h3.5M412.2 223.7h3.1M419.7 229h1.9M284.8 195.8h1.8M448.6 296.9h2.7M463.2 199.5h2.5M462.3 222h1.3M453.4 258.5h3.4M259 282.1h2.5M438.4 227.3h1.3M385 230.2h1.6M275.5 203.7h2.6M417.9 203.8h1.6M428.5 220h2.6M282.9 280.6h2.5M260.3 229.8h2.7M294.4 207.9h2.1M244.9 200.2h1.5M308.6 280.4h3.3M330.5 272.4h3.1M463.1 217.6h2.8M445.4 273.1h1.3M431 275.5h2.6M249.4 202.6h1.2M366.7 257.4h1.4M431.2 237.3h1.5M374.1 222h1.7M288.3 277.5h1.4M294.1 208.7h2.7M395.1 239.4h1.6M244.6 292.4h2.6M253.8 261.6h3.1M286.7 294.1h1.6M340.7 240.4h3.4M350 272.2h2.9M304.7 242.8h2.3M315.9 215h1.6M466.4 292.2h1.6M467.6 230.1h2.9M347.1 244h2.2M247.6 249.2h1.8M450.7 260.9h1.8M431.7 255.8h2.7M408.8 271.4h1.7M438.8 272.7h2.9M410.3 218.8h3.5M406.5 291.1h1.9M310.3 287.4h3.5M400 209.8h1.9M364.3 195h2M369.7 292.2h2.8M444.3 215.9h3.2M290.1 220.7h2.7M296.1 195.3h2.8M254.8 261.8h1.4M355.9 289.3h2.2M286.8 288.5h3.3M348.7 272.3h1.8M244.5 217.8h2.6M419.6 209.3h1.5M308.2 221.6h2M411.6 232.6h2.9M389.6 291h2.6M462.7 233.6h2.5M285.8 215.7h2M435.5 289.7h2.3M320.6 228.7h2.5M345.2 299.3h2.8M322.4 253.8h2.3M459.7 213.5h3M304.9 235.6h1.3M297.3 227.8h1.8M385.1 206.9h1.9M364.3 250.5h2.5M279.7 221.6h3M466.8 211.9h1.4M441.6 299.8h2.1M460.6 257h3.3M249.8 196.3h3.1M347 205.4h3M240.3 214.5h2.9M410 248.5h2.6M376.3 221.5h2M382.4 218.8h3M450 260.5h1.6M305 256.4h2.2M330.2 196h2.1M325.8 206.1h3.5M417.2 296.3h1.8M396.2 270.2h1.8M376.2 270.6h2.6M364.9 220.8h1.8M313.5 247h2.2M287.2 200h3.5M321.7 287.9h3.3M277.2 213.9h1.7M240.6 217.5h2.6M400.5 212.4h2.4M387.3 270.7h2.8M413.3 203.2h1.5M406 241.4h2.8M406.6 275.9h2.8M337.3 289.5h2.7M350.4 281.4h2M319 257h3.5M283.6 224.8h1.4M388.9 244.6h2.3M321.8 232.9h2.5M276.4 244.8h1.5M356.8 246.6h2.1M312.2 278.8h1.7M360.7 296.3h2M336.3 266.4h2.3M418.9 288.1h1.7M355 244.2h2.3M385.9 214.3h1.8M296.2 240.2h1.9M308.5 294.3h2.6M312.3 204.3h2.7M377.8 254.5h1.3M378.6 278.5h2.5M393.2 231.5h2.1M299.6 275h2.9M363.7 248.1h1.9M462.9 198.1h2.5M310.6 279h3.4M373.9 270.5h1.7M466.6 241.9h3.2M246.2 229.1h2.8M279.4 195h2M399.5 285.4h1.6M376 286.2h3M385.9 246h1.7M303.1 253.8h1.9M400.8 220.3h2.6M288.3 266.7h3.2M444.1 238.4h3.3M272 235.6h1.9M329.2 199.9h2M376.6 273.5h2.2M451.4 265.5h2.9M432 231.7h3M350.4 224.5h2.7M401.7 199.2h2.8M458.6 197.5h3.4M337.4 292.7h2.1M344.2 263.5h1.9M293.5 263.6h2M245.8 224.8h3.3M408.5 208.2h2.4M377.4 212.5h3.1M463.1 263.7h3M332.7 220.3h2.8M440.3 271.9h1.5M468.5 290h2.8M289 212.2h1.5M419.4 252.3h3.5M279.9 232.2h1.8M434.8 275.1h2.9M353.5 222.5h2.1M266.1 269.5h2.6M363.6 286.4h1.5M384 205.4h1.8M389.4 248.3h3.2M291.5 232.1h2.1M307.9 265.6h2M331.6 277.2h1.4M389.7 246.5h2.1M340.9 212.1h1.5M404.6 228.3h1.8M286.2 260.8h2.8M379.1 196.6h2.2M335.1 212.7h2.9M332.3 283.4h2.3M295.2 286h1.3M319.9 232.5h1.5M386.2 225.9h3.4M448.6 198.3h1.7M392.7 268.8h1.7M317.1 298.5h3.4M323.4 268.5h3.4M390.3 238.4h3.3M373.4 265.6h3.3M252.3 205.5h1.3M303.5 297h2.8M323.2 257.7h2.2M351.5 230.8h3.3M411.1 200.2h2.6M454.5 234.8h1.5M251.5 251h2.1M365.6 266.5h2.2M379.1 257.2h2.5M358.4 216.3h1.8M394.5 293.4h1.4M251.9 241.8h3.4M441.6 217.5h2.6M256.6 279.4h1.4M456 231.7h1.9M318.4 206.2h2M288.3 197.5h2.3M430.9 274.3h2.4M267.9 242.4h1.8M345.7 287.3h1.6M362.1 243.7h2.2M256.1 291h3.3M289.6 285.7h2.2M436.6 226.7h1.3M466.1 232.3h1.3M290.7 229.3h3.1M461.4 223.1h1.5M266.9 298.5h2.3M269.9 226.8h2.4M383.6 250.6h3M342.3 283.1h2.8M378.7 204.4h1.9M303.6 286.6h3.2M400.8 266.2h1.5M243.8 202.3h2.2M306.3 299.1h1.4M382.6 226.7h1.6M426.1 281.1h2.3M350.8 206.3h2.6M411.2 288h3.1M424.6 214.6h3.3M260.3 219.1h2.5M403 261.8h2.6M403.6 236.6h1.3M305.2 255.3h2.9M332.7 252.3h3.2M381.1 244.7h2.1M263.7 233.6h3.4M356.3 243h2.7M292.3 241.1h1.8M360.5 247.8h3M413.8 232.4h3.5M369.5 235.2h1.6M243.7 231.6h2.6M301.9 207.7h2.3M269.4 217.3h2.3M405.4 230h2.8M313 208.7h3M388.3 263.6h2.9M357.3 201h1.5M363.9 263.7h1.3M407.7 291h2.6M442.5 245.9h2.9M245.9 250.6h2.9M420.8 291.7h2.1M251.1 272.9h3.5M455.7 285.6h1.3M396.3 291.7h1.9M381.5 256.9h2.1M450.5 203.9h1.6M411.2 275.1h2.3M439.1 214.5h1.8M249.2 282.7h1.9M379.8 245.2h2.4M302.3 206.9h3M341.8 230.8h2.4M251 273h2M314.5 222.1h1.3M407.2 264.7h3M348.2 285.3h2.1M362.7 280.4h1.9M347.7 231.5h1.3M461.2 283.7h3M242.8 290.1h1.5M447.9 233.2h1.2M413.6 196.6h3.1M270.6 281.8h1.3M268.7 266.8h2.6M405.4 207.3h2.5M434.9 280h3.2M399.6 280.6h2.4M348.5 258.1h3.1M282.6 223h3.1M294.1 206.7h3M464.4 207.6h1.3M356.5 254.7h2.7M380.6 245.4h1.4M322.5 244.2h3.5M353.6 262.7h2.7M381.9 265.2h1.5M291.3 215.4h2.2M309.2 288.5h1.4M253.6 272.7h1.3M251.4 221.6h2.1M354.6 256.4h2.9M451.8 221.4h2.2M328 213.8h2.5M434.7 217.5h1.6M259.2 236.6h3.5M386.2 206.3h3.4M289.1 241.5h2.6M462.7 286.4h2M459.7 256.9h3.1M310.9 260.8h2.9M467.5 283.7h2.6M258.3 270.5h1.5M453.6 295h3.2M264.1 257.8h2.7M419 285.3h1.5M285.4 194.5h3.5M350.7 257.2h3.2M283.1 228.6h2.7M318.4 272.6h2.1M373.4 252.2h2.1M463 281.3h1.9M366.6 258.1h1.7M276.6 238.6h2.6M431.5 252.3h2.3M345.8 198.2h1.9M416.3 262.2h1.4M443.3 287.1h3.2M413 228.8h1.8M325.4 238.2h1.3M284.6 266.9h3.1M255.5 212.5h1.8M429.3 244.4h1.9M380.3 271.5h2.5M375.8 278.6h2.5M386.4 239.1h3.2M453.2 253.5h2.6M442.2 206.3h2M317 256.3h3M375.1 253.6h3M322.3 264.8h3M347.1 274.1h1.2M381.2 271.1h2.8M264.4 248.9h2.7M402.8 294.6h1.5M289.3 264.7h1.3M340.8 199.3h2.7M384.6 205.3h1.5M317.9 226.8h2.3M374.7 228.7h1.2M253.9 284.7h1.6M455.8 239.2h1.6M370.6 202.1h1.8M375.2 233h1.4M389.5 220.7h3.4M284.1 211.8h1.9M424.5 286.9h3.1M291.5 236.3h2.4M360.7 292.9h3M355.6 209.1h3.5M467.1 281.1h2.9M411.5 293.6h2.9M373.1 251.6h2.6M252.1 259.4h1.4M439 205.4h1.8M410.9 210.4h1.6M352.4 293.5h3.4M259.6 195.8h1.6M422.2 262.8h3.1M356.2 239.3h3.1M324.9 281.1h2.5M264.2 197h2.3M316.6 298.3h1.3M350 273.2h1.9M395.7 234.8h1.7M257.1 256.3h2.7M367.3 229.7h1.4M280.4 286.1h2.1M378.7 212h1.8M255.4 298.9h1.8M338.6 211h2.2M462.7 234.5h1.2M333.8 258.6h2M248.9 266h2.2M445.6 297.1h2.6M414.6 272.5h1.4M377.5 275.6h3M374.1 272.9h3M428.7 218.3h3.5M441.8 203.9h1.9M260 249.7h1.5M340.7 231.5h2.5M312 205.8h1.2M446.5 234.6h2.7M256.5 201.4h2.4M386 292.3h1.8M440.8 297.1h2.1M371.2 203.4h2.7M422.3 282.1h2.6M315.8 208.9h2.2M383.1 198.1h2M436.5 257.8h3.3M266.4 247.9h1.8M386.3 296.6h2.7M459.3 274.8h1.7M430.3 265.4h2.7M449.4 207.8h3M435.8 194.4h2.5M356.3 241.1h1.9M261.5 250h3.2M419.7 195.8h2.5M320.1 288.6h3.1M328.8 222.1h1.3M338.3 211.9h3M356.9 247.6h1.4M269.6 214.2h1.6M266.7 228.7h2.5M357.1 238.2h2.4M252.9 237.3h2.7M244.9 264.5h3.3M463.3 296.6h1.9M310.1 202.7h1.3M392.3 245.1h1.3M406.4 283.5h2.7M331.7 229.6h1.3M298.4 298.7h3.2M278.5 285h1.3M282.4 233.5h1.6M426.6 277.5h3M379.8 262h3.3M424.5 265h3.5M241.6 239.9h2.4M411.7 208.3h2.2M362.4 259.8h3M347.3 295.9h1.6M437.2 255.6h3M447.5 282.8h3.2M335 215.1h2.2M351.5 251.4h2.8M454.8 198.8h1.5M295.5 233.1h2M243.7 213.9h1.7M365.7 225.8h3.1M241.8 268.9h2M422 217.9h3.3M285.5 210.1h3.3M396.1 275.5h2.2M450.4 290h3.1M424.1 292.8h1.6M430.1 210.6h2.7M302.1 235.7h1.8M268.3 250h3.2M321.6 213.2h3.1M299.6 204.9h1.3M400.2 295.8h2.8M371.6 269.1h2.9M467 261.4h1.5M469 266.7h2.1M445.5 288.7h2.1M335.9 210.6h3.4M401.3 263.5h1.7M410.8 294.3h3.2M345.3 203.1h2.7M252 239.5h2.2M453.7 273.2h1.5M364.6 262.8h1.8M373.5 199.4h2.9M375.3 291.3h3.3M308.3 199.8h2.7M396.2 272.5h1.9M333.3 279.5h2.6M303.3 206.2h2.8M308.2 293h3.1M341.4 216.7h1.3M363.1 270.2h1.4M337.4 233.6h2.3M376 242h2.8M291.8 271.9h2.3M374.3 259.5h3.3M463.1 195.5h2.8M362.2 261.8h1.7M341 238.2h2.1M449.7 226h2.2M250.4 229.2h1.8M329.6 210.8h1.9M317.6 243.1h2.3M386.2 262h2.3M336.5 248.6h2.7M321.6 298.5h3.1M433.5 209.2h1.7M381.6 286.1h2.2M426.2 257.8h1.2M462.8 290.7h2.1M426.1 215.7h2.7M386.7 235.4h3.2M269.2 213h2.5M406.4 196.4h2.8M291.1 249.4h2.4M408.2 236.8h3M310.2 294.6h2M278.1 228.1h3.4M398.6 228.4h1.4M397.8 270.1h1.5M323.7 280.4h2.6M460.7 258.8h1.6M357.4 270.2h3.5M311.1 209.5h3.1M403.2 207.7h2.3M458.6 241h2.4M262.1 298.2h2.1M364.5 225.8h3.4M335.5 262.9h3.1M426.4 247.3h3.1M400.9 230.5h2.3M366.9 253.5h2.8M335.2 281.8h3.2M278.9 274.9h1.6M323.6 274.4h1.3M463.2 217h3.2M370.7 250.8h3.3M319.7 295.4h2.9M353.1 244.4h3.1M251.8 218.2h2M400.6 292.2h2.7M275 285h3.5M421.6 225.5h3M267.8 255.3h2.8M363.3 228.4h2.5M380.8 241.6h1.9M283.9 295.2h3.4M270.1 213.6h2.5M428 256.1h3.5M317.9 237.1h1.6M417.2 218.8h1.8M450.6 211.9h2M437 221.3h1.7M443.5 290.1h2M396.1 259.3h3M391.4 208.5h2.8M276.5 281.6h1.4M283.2 247.2h3.1M321.2 235.3h1.5M398.4 226.4h1.9M244.4 220.6h1.6M265.7 216.5h3.1M356.2 291.3h2.5M352.6 254.3h2.8M289.1 221.4h2.7M390.3 247.5h2.2M431.8 209h1.5M391.8 277.4h2M460.2 225.3h1.8M389.4 254.2h1.3M258.9 205.8h2M245.8 273.7h2.7M368.9 222h1.6M454.2 242.2h1.9M344.8 251.6h3.3M360.6 222.2h1.4M438.4 279.9h2.8M289.5 288h2.3M400.5 197.5h2.4M420.1 279.6h3M338.9 220.4h3.2M447.9 292.5h2.4M449.1 195.3h3.3M283.5 214.8h2.2M389.3 222h1.7M432.5 254.8h2.2M416.1 263.3h3.3M330.3 210.1h1.4M391.8 228.1h1.3M361.7 258h3.3M306.7 231h3.3M394.8 209.7h2.1M281.9 269.3h2.8M347.9 198.7h2.4M296.8 248.4h1.7M256.8 288.1h2.6M428.2 260.5h1.3M466.5 220.1h1.3M307.5 203.1h2.1M398 247.9h2.3M465.3 244.1h3.4M397.8 238h3.2M288 215.3h3.3M322.2 242.9h2.7M451.5 252.7h3.4M401.4 260.8h2.6M298 287h1.7M449.4 271.3h2M274.8 277.6h2.8M432.8 213.4h1.6M283.3 248h2.9M324.4 205.2h2.3M341.4 281h3.5M358.2 223.3h1.7M241.6 196.6h1.6M295.9 236.4h3.1M439.5 284h2.7M465 294.6h1.8M327.7 298h3.5M319.4 220.6h3M256.6 297.4h1.7M420.3 258.8h2.3M439.2 220h2.8M293.1 275.5h2.6M392.3 278.3h2.3M390.3 280.6h3.3M383.5 200h2.3M445.2 268h1.6M415.5 273.2h1.5M272.7 254.2h1.7M244.2 284.2h3.3M460.2 220.2h3.4M256.9 275h2M356.6 297.8h2.9M321 272.7h2.1M362.2 200.1h3.5M251.4 194.5h1.8M399.9 272.9h1.5M308 248.2h3.3M290.4 210.8h2M279.2 294.4h3.3M246.4 264.7h2M266.6 282.9h1.9M242.7 220.3h3.1M277.9 299.6h2.5M427.7 279.5h2.9M395.9 209.6h3.2M258.6 232h3.4M415.1 222.3h3.4M391.3 201.7h2.5M314.4 290.1h1.4M361 217.5h2.7M274.8 212.7h3.1M371 240.5h1.3M255.7 258.2h1.9M437.7 219.1h3.2M453.4 196.3h2.3M342.5 262.4h3.4M248 287.2h2.2M324.7 267h1.9M263.9 197.3h1.3M465.4 211.1h2.8M340.7 290.4h1.7M274.7 215.9h2.2M245.9 237.8h2.3M389.4 275.4h3.1M292.5 283.2h3.5M454.3 224.3h2.8M285.9 284.4h2.4M307.2 211.9h3.4M272.3 207.2h3.3M440.5 196.6h2.9M447.6 282.6h1.5M444.8 207.2h1.6M333.1 283.3h2.3M439.6 195.1h3.3M405 292.9h1.6M270.4 245.9h1.7M391.5 263.8h3.4M297.7 252.4h3.4M392.9 220.2h3.2M343.5 269.3h1.9M404.9 299.1h3.2M371.7 229h1.6M368.8 221.2h3.2M291.5 231h2.1M439.5 253.1h1.5M243.7 215.6h2.5M379.9 251.7h2.7M309.1 244.4h3.4M448.9 281.7h1.8M463.5 294.8h1.2M254 221.7h3.2M349.1 254.6h1.8M271 260.1h3.2M396.7 274.6h1.3M317.9 295.4h3.3M360.9 246.7h3.1M279.3 299.2h2.9M389.2 240.6h2.7M452.6 242h2.4M318.2 285.8h2.2M338.1 218.5h3.4" stroke="#c0600f" stroke-width="1" stroke-opacity="0.7" fill="none"/>
<path d="M314 312.3 318.6 310.2 323.1 308.5 327.7 307.2 332.3 306.2 336.8 305.7 341.4 305.5M281.2 309 289.1 304.8 297 301.5 304.9 298.8 312.8 296.9 320.7 295.8 328.6 295.4M311.7 316.1 318.4 312.2 325.2 309 331.9 306.5 338.6 304.8 345.4 303.7 352.1 303.3M304.7 312.6 312.9 307.7 321 303.8 329.1 300.6 337.2 298.4 345.3 297.1 353.4 296.7M307.4 309.1 313.3 306.5 319.2 304.4 325 302.8 330.9 301.6 336.8 300.9 342.7 300.6M279.6 312.5 286.6 310.2 293.7 308.3 300.7 306.8 307.7 305.8 314.8 305.1 321.8 304.9M276.3 305.8 282.2 302.3 288 299.4 293.9 297.1 299.7 295.5 305.6 294.5 311.4 294.2M303.5 315.6 311.1 312.8 318.7 310.5 326.4 308.7 334 307.4 341.6 306.7 349.3 306.4" stroke="#40d040" stroke-width="0.9" fill="none"/>
<path d="M294.1 313.8 301.6 310.3 309.1 307.5 316.6 305.3 324.1 303.7 331.6 302.8 339.2 302.5M311.2 304.9 316.3 303.2 321.3 301.7 326.4 300.6 331.5 299.8 336.5 299.3 341.6 299.1M313.7 317.7 320.3 314.7 327 312.3 333.6 310.4 340.3 309 346.9 308.2 353.6 307.9M305.4 312.9 312.6 309 319.8 305.8 326.9 303.4 334.1 301.6 341.3 300.5 348.5 300.2M308.2 315.7 313.2 313.3 318.2 311.3 323.1 309.8 328.1 308.7 333.1 308 338 307.8" stroke="#40d8d8" stroke-width="0.9" fill="none"/>
<path d="M303.7 298.8 307.5 296.8 311.4 295.2 315.2 293.9 319.1 293 322.9 292.5 326.7 292.3M278.3 298.5 283 296.4 287.6 294.7 292.3 293.4 297 292.4 301.6 291.9 306.3 291.7M292.7 298.5 301 295.4 309.3 292.8 317.5 290.8 325.8 289.4 334 288.5 342.3 288.3M314.1 304 321.7 300.2 329.2 297.1 336.8 294.7 344.4 292.9 351.9 291.9 359.5 291.5M290.4 296.1 298.4 293.4 306.4 291.1 314.4 289.3 322.4 288 330.3 287.3 338.3 287M291.3 300 296.6 297.2 301.9 294.9 307.2 293.2 312.5 291.9 317.9 291.2 323.2 290.9" stroke="#e8701a" stroke-width="0.9" fill="none"/>
<path d="M289.5 314.6 297.2 310 304.9 306.3 312.5 303.3 320.2 301.2 327.8 300 335.5 299.6M287.5 314.3 291.6 312.6 295.8 311.2 299.9 310.1 304 309.3 308.2 308.9 312.3 308.7M275.9 313.7 282.2 310.5 288.6 307.9 294.9 305.8 301.3 304.4 307.6 303.5 314 303.2M312.2 305.3 317.6 301.9 323 299.2 328.5 297 333.9 295.5 339.3 294.5 344.7 294.2M290 311.4 294.1 308.8 298.2 306.6 302.3 305 306.3 303.8 310.4 303.1 314.5 302.8M278.4 304.6 285 300.7 291.6 297.5 298.2 295 304.8 293.2 311.4 292.1 318 291.8" stroke="#30c0a0" stroke-width="0.9" fill="none"/>
<path d="M307 296.6 311.8 293.7 316.7 291.4 321.6 289.6 326.4 288.3 331.3 287.5 336.1 287.2M289.2 297.3 297.3 292.2 305.5 288 313.6 284.7 321.8 282.3 329.9 280.9 338.1 280.4" stroke="#f0a020" stroke-width="0.9" fill="none"/>
<path d="M290.9 311 297.2 307.8 303.4 305.1 309.7 303.1 315.9 301.6 322.2 300.7 328.4 300.4" stroke="#c0e040" stroke-width="0.9" fill="none"/>
<path d="M296.3 301.9 301.8 299.7 307.3 297.8 312.7 296.4 318.2 295.4 323.7 294.8 329.2 294.6" stroke="#50d050" stroke-width="0.9" fill="none"/>
<path d="M291.8 295 299 290.5 306.3 286.8 313.5 284 320.8 282 328 280.8 335.3 280.3" stroke="#e8c030" stroke-width="0.9" fill="none"/>
<path d="M295.2 316H309V359H320.5V316H373V359H387V316H400.2V373H295.2Z" fill="#979797"/>
<rect x="309" y="316" width="11.5" height="43" fill="#979797" fill-opacity="0.55"/>
<rect x="373" y="316" width="14" height="43" fill="#9494a4" fill-opacity="0.6"/>
<path d="M308.6 316v43M320.6 316v43M373 316v43M387 316v43" stroke="#7a7a7a" stroke-width="0.6"/>
<path d="M320.8 317v41" stroke="#e4dc60" stroke-width="1" stroke-dasharray="3 1"/>
<rect x="327.4" y="321.4" width="40" height="37.8" fill="#a07c74"/>
<path d="M324.8 327.2l9.4 0.7M304.8 327l13 2.1M313.2 321l11.3 1.2M297.1 326.6l10.1 2.3M323.6 347.5l11.7 -0.2M301.2 342.7l6.9 -1.3M300.1 330.9l7.6 -1.1M317.7 343.4l9.1 0.1M307.5 343.1l5.1 -1.1M296.8 350.6l10.5 -0.8M312.2 341.4l5.8 -1.2M308.5 346.1l6.3 -0.2M312.9 328.6l9 -1.2M309.3 342.3l11 2.2M324.1 334.7l5.8 1.4M303.3 327.5l6.6 -1.3M306.4 334.4l8.5 1.8M301.6 332.9l12.6 1.8M296.3 323.4l8 -1M321.9 352.6l6.4 -0.8M302.8 322.1l13.1 -0.8M310.6 325.6l13.4 -3.1M307.5 340.7l9.5 -1.6M316.9 342.1l5.8 1.2M313.7 323.1l7.3 1.6M307.3 333.8l7.7 0.2M300 348.6l14 -0M311.3 335.9l6.2 -1.4M303.4 321.8l11.2 -2.7M296.8 350.4l9.5 -2.4M316.4 322.6l5 -0.5M317 333.1l13.9 1.2M319.2 345.8l13.2 2.2M316.1 334.7l13.6 -1M325.3 346.2l6.8 0.7M319.9 338.3l8.9 0.7M322.7 340.8l10.2 1.4M310.1 319.9l7.5 0.8M296.9 343.7l10.1 0.4M303.7 329.8l8.6 0.1M299.7 354.8l5.7 -0.6M299.1 344l8.7 -0.7M300.2 352.3l6.8 0.3M323.7 320l11.4 1.1M317.8 323.3l6.2 -1.5M314.8 352l6.6 0.6M296.5 330.8l9.8 -1.2M313.7 321.3l7.7 1.2" stroke="#30d030" stroke-width="0.75" fill="none" stroke-opacity="0.9"/>
<path d="M321.4 338.3l7.1 -1.7M308.4 344.9l5.3 -1.3M298.5 340.2l8.9 0.3M311.9 349l12.5 1.1M313.2 338.7l12.8 -0.7M313.1 331.2l10.1 0.1M314.8 353.4l11.7 -0.2M325 326.3l8.1 1.8M302.5 352.6l5.5 0M301.8 318.5l9.4 -2.3M300.8 331.5l12.1 -0.8M319 331.1l9.2 -0.7M314.2 355.4l7.6 1.3M316 351l9.6 1.7M321.9 324l10.9 -2.2M296.2 331.7l8.3 2.1M318.9 342l10.6 -1.2M324.5 331.3l6.9 -1.2M302 337.4l11.6 1.8M314.4 354.4l7.4 -1.4" stroke="#50e070" stroke-width="0.75" fill="none" stroke-opacity="0.9"/>
<path d="M315.2 341.5l5.3 -0.2M314.6 355.5l13.5 -0.2" stroke="#30c090" stroke-width="0.75" fill="none" stroke-opacity="0.9"/>
<path d="M343.1 306.9l0.6 -9.7M376.2 308.4l-4.1 -6.4M362.2 306.2l-2 -9.6M380.2 309l1.8 -8M396.7 311.3l1.2 -5.4M353.2 317.4l-0.7 -6.9M392.5 305.1l1.7 -3.8M364.7 315.2l3 -8.2M367.6 310.5l-0.6 -7.1M352.5 311.9l-4.8 -7.6M379.6 311.4l1.8 -4.8M339.7 306l-4.6 -11" stroke="#2a50e0" stroke-width="0.75" fill="none" stroke-opacity="0.9"/>
<path d="M382.7 315.1l-2.5 -4.5M355.7 305.3l-5.4 -8.3M390.2 316.5l2.1 -9.2M397.1 314.3l2.3 -4.8M378.9 308.8l-1.8 -7.2M363.7 306.6l1.2 -4.2M363.6 305.8l-1.2 -5.6M372.8 315.2l3.8 -6.7M371.4 310.3l-3.3 -5.7M333 317.9l-3 -9.4M387.8 307.1l1.1 -5.3M333.4 314.3l2.8 -10.1M393.9 312.2l-0.8 -9.8M333.2 305.9l4.8 -8.4M333 308.1l1.2 -9.5M335.8 308.4l-0.8 -9.1M354.1 304.3l3.8 -8.9M332.1 312.4l1.8 -7M328.6 309.6l-1.6 -5.3M331.2 308.3l-2.2 -5M344.6 305.7l5.1 -10.5M382.3 316.3l-2.3 -8.2M364.2 309.1l1.9 -11.7M366.3 308.6l-2.2 -8.9M396.8 320.3l-7.3 3.4M366.6 335.9l4.4 4.6M331.9 353.8l-3.8 8.3M346.6 330.2l7.4 6.1M347.1 361.5l-8.4 -1.1M360.3 336.6l-7.2 10.4M395 353.2l7.7 5.1M388.9 333.9l-1.4 7.5M348.7 339l-6.6 -10.7M397.6 321l5.2 -5.2M393.2 369.4l-0 -8.3M370.5 329.2l-3.8 8.1M362.9 330.6l3.4 2.3M373.7 360.7l-7.3 -9.7M361 364.5l-4.1 -3.9M342.1 334.8l7.9 1.6M334.4 323.2l-10.1 -7.7M334.4 322l9.2 2.6M387.1 363.3l-2.1 8.2M360 348l2.7 -3.3M340 342l-2.5 -9.3M361.6 364.5l-7.1 0.2M350 322.6l3.1 8.4M347.5 371.7l-13.7 1.2M350 371.5l7.5 -0.7M377.5 348.6l5.8 -8.3M363.3 339.6l10.8 4.3M379.9 334.7l11.1 -3.6M347.7 354.9l-4 0.5M369.2 326.3l7.7 2.7M357.3 345l4.3 5.3M340.6 350.7l-2.2 4.6M335.8 344.1l-5.7 -4.1M384.9 343.6l-0.6 -7M331.1 363.8l-6.5 11.9M327.1 333.1l4.4 9.5M334.1 346.7l5.1 -2.6M398.9 330l5.5 -9M376.3 357.8l-3.4 4.6M394.5 346.7l-5.6 2.5M383.7 336.3l11.6 -5.3M360.3 328.8l6.8 -8.7M346 351.6l4.9 2.1M362.9 323l7.5 -3.3M331 321.1l8.5 3.7M340.6 331.1l1.5 -11.8M344.8 361.7l-6.8 5.3M390.2 321.3l4.6 4.9M365.4 350.8l-6.1 0.7M394 319.9l8.7 -10.5M374.4 353.9l0.5 -4.4M392.7 328l13 1.6M371.4 333.6l-3.7 8.8M341.2 348.4l3.4 -9.6M382.2 346.2l-1.3 -3.8M350.2 361.9l8.6 -7M335.8 346l3.4 2.1M349 365.9l0.3 -7.3M390.3 330.8l-11.3 -3.2M393.6 352.1l-2.3 -7.8M438 310.8l22.2 8.4M419.9 322.8l15.6 10.8M404.9 320l12.8 12.4M410.9 323.2l22.7 12.2M419.3 311.9l24 24.3M421.2 310.1l13.6 14.7M439.8 311l30.4 17.1M439.7 330.5l-8.3 -1.3M456 320.6l-6.8 -7.9M432 359l-6.3 -5.3M455.6 351.6l6.7 -0.9M409.5 334l-8.3 4.2M453.8 359l1.1 5.8M420.2 318.7l6.5 -4.5M380.1 372.4l-9.8 -2.1M399.4 361.2l5.3 -1.5M302.5 361.6l10 -4.3M328 360.7l-12.2 1.8M302.5 364.7l-11.1 -6.4M364 358.7l-11.1 3.2M318 373.6l6.9 -2.9M309.7 361.6l7.2 1M379.1 367.4l-9.5 -1M371.2 359.1l-11.5 -2.2M341.6 364l7.1 4.2M397.6 370.1l-9.3 -4M354.6 372.8l8.3 4.4M389.4 367.7l11.9 6.4M403.3 370.9l-8.3 3.8M313.4 361.5l-5.6 1.1M367.7 372.3l8.6 7.6M310.3 363.6l11.7 -6M382.2 367.3l7.2 -6.7M344.1 371.4l-10.4 5.5M332 371.1l11.1 -6.5M403.2 360.8l8.6 -0.8M363.5 368.5l6.3 -0.6M350.1 368.7l-10.5 -6.9M293.6 360l4.6 3.7M377.9 361.8l-5.4 -3.1M400.8 364.7l-6.7 -4M393.7 374.4l8.9 -6M312.8 373.6l-10 3.5" stroke="#2040d8" stroke-width="0.75" fill="none" stroke-opacity="0.9"/>
<path d="M357.3 305.8l2.2 -7M377.7 304.4l0.6 -7.3M368.1 308.2l4.6 -11M381.7 310.8l-1.9 -8.6M332.5 311.4l-2.2 -4.4M381.8 312.2l-2.1 -3.9M333 305.5l2.3 -11.1M380.1 304.4l5.1 -10.5M350.8 304.6l-2.5 -6.6M373.2 351.2l-7.3 -3.7M345 328.8l-7.7 4.7M396.9 351.6l5.5 -2.9M368.2 340.8l0.7 -11.6M345.1 332.5l7.5 -1.2M387.6 325.9l-4.3 -1.6M392.7 331.2l9 10.3M388 370.7l1 12.3M389.7 335.4l-5.4 9.7M378.1 319.1l5.4 6.4M385.6 336.8l-6.3 6.5M340.3 318.9l7.6 -5.6M344 343.9l-5 -9.2M369.4 335l-4.3 -0.6M350.6 318.3l-0 13.6M380 334.7l-13 4M388.3 332l10.4 -4.8M375.2 363.2l-4.7 7.9M396.7 342.9l-8.5 1.7M369.4 319l10.9 0.7M394.3 368.6l9.6 -3.4M336.6 328.4l1.9 5.8M362.6 364.3l5.1 12.7M369.4 322.4l3.4 11.2M385.8 348.8l10.1 5M349.1 353.1l-6.7 -1.7M345.8 343.6l7.6 7.8" stroke="#3070e8" stroke-width="0.75" fill="none" stroke-opacity="0.9"/>
<path d="M399.2 369.7l2.3 -13.4M333.8 337.7l2 11.6M370.6 319.3l-2.8 -4.3M339.6 345.9l10 0.6M338.6 365.2l5.7 -7.4M385.3 343.3l9.8 9.4M337.3 343.6l-3.8 5.2M390.5 341.4l4 2.3M330.5 346.9l-6.2 9.8M362.6 320l-2.7 -5.2M365.1 346.2l-5.1 3.7M378.3 348l7.3 -10.2M394.2 367.3l-11.5 8M331.4 358.5l1.3 -13.9M352.9 336.6l6.7 -8.1M351.7 346.2l-7.2 -8.9M362.8 318.3l4.8 0.2M390.5 347.6l-2.4 -4.9M366 334.6l-12.7 -3.3M396.3 339.2l4 2.5M380 327.7l8.2 -9.1M366.9 362l8.7 3.9M369.1 336.1l-11.5 4.7" stroke="#30a0d8" stroke-width="0.75" fill="none" stroke-opacity="0.9"/>
<path d="M409.3 328.2l21.3 24.7M433.2 309.2l32.1 27M434.5 319.9l16.2 17M412.1 325.4l25.5 29.6M407.9 313.3l29.8 8.9M424.1 307l13.4 8.1M439.5 329l22.3 24.7M448.1 355.2l4.9 4.8M460.1 325.8l-3.3 11.3M414.4 346.9l-8.4 -2.7M458.1 356.8l9.5 3.9M455.8 346.6l-2.8 7.2" stroke="#2878e0" stroke-width="0.75" fill="none" stroke-opacity="0.9"/>
<path d="M399.9 373.9l5.4 1.8M368.2 369.6l8.9 -3M314.3 361.7l-9.8 -8.6M369.7 372.6l6.2 -1.4M399.7 364.3l-5.4 -4.6M292.8 363.4l-8.9 5.3M376.1 365.9l8.2 7.2M363.8 362.3l11.7 4.2M347.8 359.4l4.9 2.1M354.7 365.6l9.1 5.4M336.1 373.4l-7.8 0.5M374.2 360.7l-6.2 0.9M293 372l-5.7 0.4" stroke="#30b0d0" stroke-width="0.75" fill="none" stroke-opacity="0.9"/>
<path d="M317.1 358.4l9.8 -9.1M389.5 365.2l7.2 -1.5M397.9 367.1l-4.7 -4.8M368.9 371.8l-6 0.7M401.1 368l13 -4.6M369.3 362.5l-10.2 -5M343.4 370l-9.2 1.9M384.8 371.5l-11.4 4.4" stroke="#40d080" stroke-width="0.75" fill="none" stroke-opacity="0.9"/>
<rect x="327.4" y="321.4" width="40" height="37.8" fill="none" stroke="#ff1a1a" stroke-width="1.6"/>
<rect x="341" y="321.2" width="13" height="4.4" fill="#111"/>
<path d="M343 323.4h9" stroke="#aaa" stroke-width="0.5"/></svg>
<defs></defs>
<linearGradient id="cb1" x1="0" y1="0" x2="0" y2="1"><stop offset="0" stop-color="#ee2020"/><stop offset="0.12" stop-color="#ff8a20"/><stop offset="0.19" stop-color="#ffc010"/><stop offset="0.245" stop-color="#ffff00"/><stop offset="0.305" stop-color="#ccff00"/><stop offset="0.365" stop-color="#90ff00"/><stop offset="0.5" stop-color="#30f030"/><stop offset="0.59" stop-color="#10f090"/><stop offset="0.73" stop-color="#00ffff"/><stop offset="0.83" stop-color="#20b0ff"/><stop offset="0.9" stop-color="#2060ff"/><stop offset="1.0" stop-color="#0000ff"/></linearGradient><rect x="4.1" y="209.8" width="8.7" height="135.2" fill="url(#cb1)"/>
<linearGradient id="cb2" x1="0" y1="0" x2="0" y2="1"><stop offset="0" stop-color="#ee2020"/><stop offset="0.12" stop-color="#ff8a20"/><stop offset="0.19" stop-color="#ffc010"/><stop offset="0.245" stop-color="#ffff00"/><stop offset="0.305" stop-color="#ccff00"/><stop offset="0.365" stop-color="#90ff00"/><stop offset="0.5" stop-color="#30f030"/><stop offset="0.59" stop-color="#10f090"/><stop offset="0.73" stop-color="#00ffff"/><stop offset="0.83" stop-color="#20b0ff"/><stop offset="0.9" stop-color="#2060ff"/><stop offset="1.0" stop-color="#0000ff"/></linearGradient><rect x="238.2" y="209.8" width="8.7" height="135.2" fill="url(#cb2)"/>
<text x="5" y="203" font-size="10.8" text-anchor="start" fill="#000" >d</text>
<text x="13" y="215" font-size="10.8" text-anchor="start" fill="#000" >16.05</text>
<text x="13.2" y="280.4" font-size="10.8" text-anchor="start" fill="#000" >8.03</text>
<text x="15.3" y="347.6" font-size="10.8" text-anchor="start" fill="#000" >0</text>
<text x="1.6" y="359" font-size="10.8" text-anchor="start" fill="#000" >[m/s]</text>
<rect x="247" y="205" width="28" height="11" fill="#fbf4e4" fill-opacity="0.85"/>
<rect x="247" y="271" width="23" height="11" fill="#f4fae8" fill-opacity="0.85"/>
<rect x="240" y="349.4" width="24" height="10.2" fill="#fff" fill-opacity="0.9"/>
<text x="247.6" y="215" font-size="10.8" text-anchor="start" fill="#000" >16.05</text>
<text x="247.6" y="280.4" font-size="10.8" text-anchor="start" fill="#000" >8.03</text>
<text x="249.8" y="347.6" font-size="10.8" text-anchor="start" fill="#000" >0</text>
<text x="240.6" y="359" font-size="10.8" text-anchor="start" fill="#000" >[m/s]</text>
<rect x="531.1" y="250" width="27.8" height="97" fill="#000"/>
<rect x="558.9" y="262" width="27.8" height="85" fill="#ff0000"/>
<rect x="598.7" y="247.2" width="27.6" height="99.8" fill="#000"/>
<rect x="626.3" y="257.3" width="27.7" height="89.7" fill="#ff0000"/>
<rect x="511.6" y="207" width="168" height="140" fill="none" stroke="#000" stroke-width="1.6"/><line x1="511.6" y1="242" x2="513.8" y2="242" stroke="#000" stroke-width="1"/><line x1="679.6" y1="242" x2="677.4" y2="242" stroke="#000" stroke-width="1"/><line x1="511.6" y1="277" x2="513.8" y2="277" stroke="#000" stroke-width="1"/><line x1="679.6" y1="277" x2="677.4" y2="277" stroke="#000" stroke-width="1"/><line x1="511.6" y1="312" x2="513.8" y2="312" stroke="#000" stroke-width="1"/><line x1="679.6" y1="312" x2="677.4" y2="312" stroke="#000" stroke-width="1"/>
<text x="482.6" y="203.2" font-size="10.8" text-anchor="start" fill="#000" >e</text>
<text x="509.8" y="210.7" font-size="10.8" text-anchor="end" fill="#000" >125</text>
<text x="508.6" y="280.8" font-size="10.8" text-anchor="end" fill="#000" >75</text>
<text x="509.3" y="351.2" font-size="10.8" text-anchor="end" fill="#000" >25</text>
<text x="558.3" y="357.8" font-size="10.8" text-anchor="middle" fill="#000" >10</text>
<text x="625.2" y="357.8" font-size="10.8" text-anchor="middle" fill="#000" >30</text>
<text x="591.3" y="367.8" font-size="10.8" text-anchor="middle" fill="#000" >External Windspeed (mph)</text>
<text x="544.9" y="247.7" font-size="10.8" text-anchor="middle" fill="#000" >94.3</text>
<text x="572.8" y="257.3" font-size="10.8" text-anchor="middle" fill="#000" >85.7</text>
<text x="611.7" y="244.4" font-size="10.8" text-anchor="middle" fill="#000" >96.3</text>
<text x="639.5" y="251.6" font-size="10.8" text-anchor="middle" fill="#000" >89.1</text>
<text x="0" y="0" font-size="10.8" text-anchor="middle" fill="#000" transform="translate(481,282) rotate(-90)">Avgerage Windspeed</text>
<text x="0" y="0" font-size="10.8" text-anchor="middle" fill="#000" transform="translate(493,279.7) rotate(-90)">Decrease (%)</text>
<line x1="556.9" y1="216.5" x2="569.1" y2="216.5" stroke="#000" stroke-width="3"/>
<text x="571.1" y="220.1" font-size="10.8" text-anchor="start" fill="#000" >At Sensor</text>
<line x1="556.9" y1="226" x2="569.1" y2="226" stroke="#ff0000" stroke-width="3"/>
<text x="571.1" y="229.6" font-size="10.8" text-anchor="start" fill="#000" >Total Sensing Volume</text>
</svg></body></html>
